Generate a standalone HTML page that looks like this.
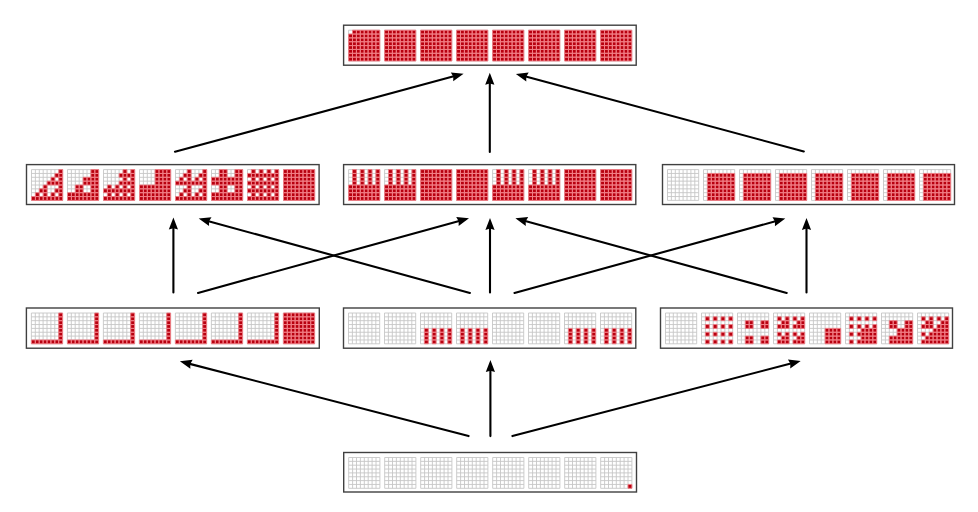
<!DOCTYPE html>
<html><head><meta charset="utf-8"><title>Lattice diagram</title>
<style>html,body{margin:0;padding:0;background:#fff;width:978px;height:512px;overflow:hidden;font-family:"Liberation Sans",sans-serif;}svg{display:block}</style>
</head><body><svg width="978" height="512" viewBox="0 0 978 512"><rect x="343.60" y="25.20" width="292.60" height="40.00" fill="#fff" stroke="#404040" stroke-width="1.4"/><path fill="none" stroke="#c6c6c6" stroke-width="0.9" d="M348.60 30.20V61.00M348.60 30.20H379.80M352.50 30.20V61.00M348.60 34.05H379.80M356.40 30.20V61.00M348.60 37.90H379.80M360.30 30.20V61.00M348.60 41.75H379.80M364.20 30.20V61.00M348.60 45.60H379.80M368.10 30.20V61.00M348.60 49.45H379.80M372.00 30.20V61.00M348.60 53.30H379.80M375.90 30.20V61.00M348.60 57.15H379.80M379.80 30.20V61.00M348.60 61.00H379.80"/><path fill="#b8000f" stroke="#f28088" stroke-width="0.9" d="M352.50 30.20h3.90v3.85h-3.90zM356.40 30.20h3.90v3.85h-3.90zM360.30 30.20h3.90v3.85h-3.90zM364.20 30.20h3.90v3.85h-3.90zM368.10 30.20h3.90v3.85h-3.90zM372.00 30.20h3.90v3.85h-3.90zM375.90 30.20h3.90v3.85h-3.90zM348.60 34.05h3.90v3.85h-3.90zM352.50 34.05h3.90v3.85h-3.90zM356.40 34.05h3.90v3.85h-3.90zM360.30 34.05h3.90v3.85h-3.90zM364.20 34.05h3.90v3.85h-3.90zM368.10 34.05h3.90v3.85h-3.90zM372.00 34.05h3.90v3.85h-3.90zM375.90 34.05h3.90v3.85h-3.90zM348.60 37.90h3.90v3.85h-3.90zM352.50 37.90h3.90v3.85h-3.90zM356.40 37.90h3.90v3.85h-3.90zM360.30 37.90h3.90v3.85h-3.90zM364.20 37.90h3.90v3.85h-3.90zM368.10 37.90h3.90v3.85h-3.90zM372.00 37.90h3.90v3.85h-3.90zM375.90 37.90h3.90v3.85h-3.90zM348.60 41.75h3.90v3.85h-3.90zM352.50 41.75h3.90v3.85h-3.90zM356.40 41.75h3.90v3.85h-3.90zM360.30 41.75h3.90v3.85h-3.90zM364.20 41.75h3.90v3.85h-3.90zM368.10 41.75h3.90v3.85h-3.90zM372.00 41.75h3.90v3.85h-3.90zM375.90 41.75h3.90v3.85h-3.90zM348.60 45.60h3.90v3.85h-3.90zM352.50 45.60h3.90v3.85h-3.90zM356.40 45.60h3.90v3.85h-3.90zM360.30 45.60h3.90v3.85h-3.90zM364.20 45.60h3.90v3.85h-3.90zM368.10 45.60h3.90v3.85h-3.90zM372.00 45.60h3.90v3.85h-3.90zM375.90 45.60h3.90v3.85h-3.90zM348.60 49.45h3.90v3.85h-3.90zM352.50 49.45h3.90v3.85h-3.90zM356.40 49.45h3.90v3.85h-3.90zM360.30 49.45h3.90v3.85h-3.90zM364.20 49.45h3.90v3.85h-3.90zM368.10 49.45h3.90v3.85h-3.90zM372.00 49.45h3.90v3.85h-3.90zM375.90 49.45h3.90v3.85h-3.90zM348.60 53.30h3.90v3.85h-3.90zM352.50 53.30h3.90v3.85h-3.90zM356.40 53.30h3.90v3.85h-3.90zM360.30 53.30h3.90v3.85h-3.90zM364.20 53.30h3.90v3.85h-3.90zM368.10 53.30h3.90v3.85h-3.90zM372.00 53.30h3.90v3.85h-3.90zM375.90 53.30h3.90v3.85h-3.90zM348.60 57.15h3.90v3.85h-3.90zM352.50 57.15h3.90v3.85h-3.90zM356.40 57.15h3.90v3.85h-3.90zM360.30 57.15h3.90v3.85h-3.90zM364.20 57.15h3.90v3.85h-3.90zM368.10 57.15h3.90v3.85h-3.90zM372.00 57.15h3.90v3.85h-3.90zM375.90 57.15h3.90v3.85h-3.90z"/><path fill="none" stroke="#c6c6c6" stroke-width="0.9" d="M384.60 30.20V61.00M384.60 30.20H415.80M388.50 30.20V61.00M384.60 34.05H415.80M392.40 30.20V61.00M384.60 37.90H415.80M396.30 30.20V61.00M384.60 41.75H415.80M400.20 30.20V61.00M384.60 45.60H415.80M404.10 30.20V61.00M384.60 49.45H415.80M408.00 30.20V61.00M384.60 53.30H415.80M411.90 30.20V61.00M384.60 57.15H415.80M415.80 30.20V61.00M384.60 61.00H415.80"/><path fill="#b8000f" stroke="#f28088" stroke-width="0.9" d="M384.60 30.20h3.90v3.85h-3.90zM388.50 30.20h3.90v3.85h-3.90zM392.40 30.20h3.90v3.85h-3.90zM396.30 30.20h3.90v3.85h-3.90zM400.20 30.20h3.90v3.85h-3.90zM404.10 30.20h3.90v3.85h-3.90zM408.00 30.20h3.90v3.85h-3.90zM411.90 30.20h3.90v3.85h-3.90zM384.60 34.05h3.90v3.85h-3.90zM388.50 34.05h3.90v3.85h-3.90zM392.40 34.05h3.90v3.85h-3.90zM396.30 34.05h3.90v3.85h-3.90zM400.20 34.05h3.90v3.85h-3.90zM404.10 34.05h3.90v3.85h-3.90zM408.00 34.05h3.90v3.85h-3.90zM411.90 34.05h3.90v3.85h-3.90zM384.60 37.90h3.90v3.85h-3.90zM388.50 37.90h3.90v3.85h-3.90zM392.40 37.90h3.90v3.85h-3.90zM396.30 37.90h3.90v3.85h-3.90zM400.20 37.90h3.90v3.85h-3.90zM404.10 37.90h3.90v3.85h-3.90zM408.00 37.90h3.90v3.85h-3.90zM411.90 37.90h3.90v3.85h-3.90zM384.60 41.75h3.90v3.85h-3.90zM388.50 41.75h3.90v3.85h-3.90zM392.40 41.75h3.90v3.85h-3.90zM396.30 41.75h3.90v3.85h-3.90zM400.20 41.75h3.90v3.85h-3.90zM404.10 41.75h3.90v3.85h-3.90zM408.00 41.75h3.90v3.85h-3.90zM411.90 41.75h3.90v3.85h-3.90zM384.60 45.60h3.90v3.85h-3.90zM388.50 45.60h3.90v3.85h-3.90zM392.40 45.60h3.90v3.85h-3.90zM396.30 45.60h3.90v3.85h-3.90zM400.20 45.60h3.90v3.85h-3.90zM404.10 45.60h3.90v3.85h-3.90zM408.00 45.60h3.90v3.85h-3.90zM411.90 45.60h3.90v3.85h-3.90zM384.60 49.45h3.90v3.85h-3.90zM388.50 49.45h3.90v3.85h-3.90zM392.40 49.45h3.90v3.85h-3.90zM396.30 49.45h3.90v3.85h-3.90zM400.20 49.45h3.90v3.85h-3.90zM404.10 49.45h3.90v3.85h-3.90zM408.00 49.45h3.90v3.85h-3.90zM411.90 49.45h3.90v3.85h-3.90zM384.60 53.30h3.90v3.85h-3.90zM388.50 53.30h3.90v3.85h-3.90zM392.40 53.30h3.90v3.85h-3.90zM396.30 53.30h3.90v3.85h-3.90zM400.20 53.30h3.90v3.85h-3.90zM404.10 53.30h3.90v3.85h-3.90zM408.00 53.30h3.90v3.85h-3.90zM411.90 53.30h3.90v3.85h-3.90zM384.60 57.15h3.90v3.85h-3.90zM388.50 57.15h3.90v3.85h-3.90zM392.40 57.15h3.90v3.85h-3.90zM396.30 57.15h3.90v3.85h-3.90zM400.20 57.15h3.90v3.85h-3.90zM404.10 57.15h3.90v3.85h-3.90zM408.00 57.15h3.90v3.85h-3.90zM411.90 57.15h3.90v3.85h-3.90z"/><path fill="none" stroke="#c6c6c6" stroke-width="0.9" d="M420.60 30.20V61.00M420.60 30.20H451.80M424.50 30.20V61.00M420.60 34.05H451.80M428.40 30.20V61.00M420.60 37.90H451.80M432.30 30.20V61.00M420.60 41.75H451.80M436.20 30.20V61.00M420.60 45.60H451.80M440.10 30.20V61.00M420.60 49.45H451.80M444.00 30.20V61.00M420.60 53.30H451.80M447.90 30.20V61.00M420.60 57.15H451.80M451.80 30.20V61.00M420.60 61.00H451.80"/><path fill="#b8000f" stroke="#f28088" stroke-width="0.9" d="M420.60 30.20h3.90v3.85h-3.90zM424.50 30.20h3.90v3.85h-3.90zM428.40 30.20h3.90v3.85h-3.90zM432.30 30.20h3.90v3.85h-3.90zM436.20 30.20h3.90v3.85h-3.90zM440.10 30.20h3.90v3.85h-3.90zM444.00 30.20h3.90v3.85h-3.90zM447.90 30.20h3.90v3.85h-3.90zM420.60 34.05h3.90v3.85h-3.90zM424.50 34.05h3.90v3.85h-3.90zM428.40 34.05h3.90v3.85h-3.90zM432.30 34.05h3.90v3.85h-3.90zM436.20 34.05h3.90v3.85h-3.90zM440.10 34.05h3.90v3.85h-3.90zM444.00 34.05h3.90v3.85h-3.90zM447.90 34.05h3.90v3.85h-3.90zM420.60 37.90h3.90v3.85h-3.90zM424.50 37.90h3.90v3.85h-3.90zM428.40 37.90h3.90v3.85h-3.90zM432.30 37.90h3.90v3.85h-3.90zM436.20 37.90h3.90v3.85h-3.90zM440.10 37.90h3.90v3.85h-3.90zM444.00 37.90h3.90v3.85h-3.90zM447.90 37.90h3.90v3.85h-3.90zM420.60 41.75h3.90v3.85h-3.90zM424.50 41.75h3.90v3.85h-3.90zM428.40 41.75h3.90v3.85h-3.90zM432.30 41.75h3.90v3.85h-3.90zM436.20 41.75h3.90v3.85h-3.90zM440.10 41.75h3.90v3.85h-3.90zM444.00 41.75h3.90v3.85h-3.90zM447.90 41.75h3.90v3.85h-3.90zM420.60 45.60h3.90v3.85h-3.90zM424.50 45.60h3.90v3.85h-3.90zM428.40 45.60h3.90v3.85h-3.90zM432.30 45.60h3.90v3.85h-3.90zM436.20 45.60h3.90v3.85h-3.90zM440.10 45.60h3.90v3.85h-3.90zM444.00 45.60h3.90v3.85h-3.90zM447.90 45.60h3.90v3.85h-3.90zM420.60 49.45h3.90v3.85h-3.90zM424.50 49.45h3.90v3.85h-3.90zM428.40 49.45h3.90v3.85h-3.90zM432.30 49.45h3.90v3.85h-3.90zM436.20 49.45h3.90v3.85h-3.90zM440.10 49.45h3.90v3.85h-3.90zM444.00 49.45h3.90v3.85h-3.90zM447.90 49.45h3.90v3.85h-3.90zM420.60 53.30h3.90v3.85h-3.90zM424.50 53.30h3.90v3.85h-3.90zM428.40 53.30h3.90v3.85h-3.90zM432.30 53.30h3.90v3.85h-3.90zM436.20 53.30h3.90v3.85h-3.90zM440.10 53.30h3.90v3.85h-3.90zM444.00 53.30h3.90v3.85h-3.90zM447.90 53.30h3.90v3.85h-3.90zM420.60 57.15h3.90v3.85h-3.90zM424.50 57.15h3.90v3.85h-3.90zM428.40 57.15h3.90v3.85h-3.90zM432.30 57.15h3.90v3.85h-3.90zM436.20 57.15h3.90v3.85h-3.90zM440.10 57.15h3.90v3.85h-3.90zM444.00 57.15h3.90v3.85h-3.90zM447.90 57.15h3.90v3.85h-3.90z"/><path fill="none" stroke="#c6c6c6" stroke-width="0.9" d="M456.60 30.20V61.00M456.60 30.20H487.80M460.50 30.20V61.00M456.60 34.05H487.80M464.40 30.20V61.00M456.60 37.90H487.80M468.30 30.20V61.00M456.60 41.75H487.80M472.20 30.20V61.00M456.60 45.60H487.80M476.10 30.20V61.00M456.60 49.45H487.80M480.00 30.20V61.00M456.60 53.30H487.80M483.90 30.20V61.00M456.60 57.15H487.80M487.80 30.20V61.00M456.60 61.00H487.80"/><path fill="#b8000f" stroke="#f28088" stroke-width="0.9" d="M456.60 30.20h3.90v3.85h-3.90zM460.50 30.20h3.90v3.85h-3.90zM464.40 30.20h3.90v3.85h-3.90zM468.30 30.20h3.90v3.85h-3.90zM472.20 30.20h3.90v3.85h-3.90zM476.10 30.20h3.90v3.85h-3.90zM480.00 30.20h3.90v3.85h-3.90zM483.90 30.20h3.90v3.85h-3.90zM456.60 34.05h3.90v3.85h-3.90zM460.50 34.05h3.90v3.85h-3.90zM464.40 34.05h3.90v3.85h-3.90zM468.30 34.05h3.90v3.85h-3.90zM472.20 34.05h3.90v3.85h-3.90zM476.10 34.05h3.90v3.85h-3.90zM480.00 34.05h3.90v3.85h-3.90zM483.90 34.05h3.90v3.85h-3.90zM456.60 37.90h3.90v3.85h-3.90zM460.50 37.90h3.90v3.85h-3.90zM464.40 37.90h3.90v3.85h-3.90zM468.30 37.90h3.90v3.85h-3.90zM472.20 37.90h3.90v3.85h-3.90zM476.10 37.90h3.90v3.85h-3.90zM480.00 37.90h3.90v3.85h-3.90zM483.90 37.90h3.90v3.85h-3.90zM456.60 41.75h3.90v3.85h-3.90zM460.50 41.75h3.90v3.85h-3.90zM464.40 41.75h3.90v3.85h-3.90zM468.30 41.75h3.90v3.85h-3.90zM472.20 41.75h3.90v3.85h-3.90zM476.10 41.75h3.90v3.85h-3.90zM480.00 41.75h3.90v3.85h-3.90zM483.90 41.75h3.90v3.85h-3.90zM456.60 45.60h3.90v3.85h-3.90zM460.50 45.60h3.90v3.85h-3.90zM464.40 45.60h3.90v3.85h-3.90zM468.30 45.60h3.90v3.85h-3.90zM472.20 45.60h3.90v3.85h-3.90zM476.10 45.60h3.90v3.85h-3.90zM480.00 45.60h3.90v3.85h-3.90zM483.90 45.60h3.90v3.85h-3.90zM456.60 49.45h3.90v3.85h-3.90zM460.50 49.45h3.90v3.85h-3.90zM464.40 49.45h3.90v3.85h-3.90zM468.30 49.45h3.90v3.85h-3.90zM472.20 49.45h3.90v3.85h-3.90zM476.10 49.45h3.90v3.85h-3.90zM480.00 49.45h3.90v3.85h-3.90zM483.90 49.45h3.90v3.85h-3.90zM456.60 53.30h3.90v3.85h-3.90zM460.50 53.30h3.90v3.85h-3.90zM464.40 53.30h3.90v3.85h-3.90zM468.30 53.30h3.90v3.85h-3.90zM472.20 53.30h3.90v3.85h-3.90zM476.10 53.30h3.90v3.85h-3.90zM480.00 53.30h3.90v3.85h-3.90zM483.90 53.30h3.90v3.85h-3.90zM456.60 57.15h3.90v3.85h-3.90zM460.50 57.15h3.90v3.85h-3.90zM464.40 57.15h3.90v3.85h-3.90zM468.30 57.15h3.90v3.85h-3.90zM472.20 57.15h3.90v3.85h-3.90zM476.10 57.15h3.90v3.85h-3.90zM480.00 57.15h3.90v3.85h-3.90zM483.90 57.15h3.90v3.85h-3.90z"/><path fill="none" stroke="#c6c6c6" stroke-width="0.9" d="M492.60 30.20V61.00M492.60 30.20H523.80M496.50 30.20V61.00M492.60 34.05H523.80M500.40 30.20V61.00M492.60 37.90H523.80M504.30 30.20V61.00M492.60 41.75H523.80M508.20 30.20V61.00M492.60 45.60H523.80M512.10 30.20V61.00M492.60 49.45H523.80M516.00 30.20V61.00M492.60 53.30H523.80M519.90 30.20V61.00M492.60 57.15H523.80M523.80 30.20V61.00M492.60 61.00H523.80"/><path fill="#b8000f" stroke="#f28088" stroke-width="0.9" d="M492.60 30.20h3.90v3.85h-3.90zM496.50 30.20h3.90v3.85h-3.90zM500.40 30.20h3.90v3.85h-3.90zM504.30 30.20h3.90v3.85h-3.90zM508.20 30.20h3.90v3.85h-3.90zM512.10 30.20h3.90v3.85h-3.90zM516.00 30.20h3.90v3.85h-3.90zM519.90 30.20h3.90v3.85h-3.90zM492.60 34.05h3.90v3.85h-3.90zM496.50 34.05h3.90v3.85h-3.90zM500.40 34.05h3.90v3.85h-3.90zM504.30 34.05h3.90v3.85h-3.90zM508.20 34.05h3.90v3.85h-3.90zM512.10 34.05h3.90v3.85h-3.90zM516.00 34.05h3.90v3.85h-3.90zM519.90 34.05h3.90v3.85h-3.90zM492.60 37.90h3.90v3.85h-3.90zM496.50 37.90h3.90v3.85h-3.90zM500.40 37.90h3.90v3.85h-3.90zM504.30 37.90h3.90v3.85h-3.90zM508.20 37.90h3.90v3.85h-3.90zM512.10 37.90h3.90v3.85h-3.90zM516.00 37.90h3.90v3.85h-3.90zM519.90 37.90h3.90v3.85h-3.90zM492.60 41.75h3.90v3.85h-3.90zM496.50 41.75h3.90v3.85h-3.90zM500.40 41.75h3.90v3.85h-3.90zM504.30 41.75h3.90v3.85h-3.90zM508.20 41.75h3.90v3.85h-3.90zM512.10 41.75h3.90v3.85h-3.90zM516.00 41.75h3.90v3.85h-3.90zM519.90 41.75h3.90v3.85h-3.90zM492.60 45.60h3.90v3.85h-3.90zM496.50 45.60h3.90v3.85h-3.90zM500.40 45.60h3.90v3.85h-3.90zM504.30 45.60h3.90v3.85h-3.90zM508.20 45.60h3.90v3.85h-3.90zM512.10 45.60h3.90v3.85h-3.90zM516.00 45.60h3.90v3.85h-3.90zM519.90 45.60h3.90v3.85h-3.90zM492.60 49.45h3.90v3.85h-3.90zM496.50 49.45h3.90v3.85h-3.90zM500.40 49.45h3.90v3.85h-3.90zM504.30 49.45h3.90v3.85h-3.90zM508.20 49.45h3.90v3.85h-3.90zM512.10 49.45h3.90v3.85h-3.90zM516.00 49.45h3.90v3.85h-3.90zM519.90 49.45h3.90v3.85h-3.90zM492.60 53.30h3.90v3.85h-3.90zM496.50 53.30h3.90v3.85h-3.90zM500.40 53.30h3.90v3.85h-3.90zM504.30 53.30h3.90v3.85h-3.90zM508.20 53.30h3.90v3.85h-3.90zM512.10 53.30h3.90v3.85h-3.90zM516.00 53.30h3.90v3.85h-3.90zM519.90 53.30h3.90v3.85h-3.90zM492.60 57.15h3.90v3.85h-3.90zM496.50 57.15h3.90v3.85h-3.90zM500.40 57.15h3.90v3.85h-3.90zM504.30 57.15h3.90v3.85h-3.90zM508.20 57.15h3.90v3.85h-3.90zM512.10 57.15h3.90v3.85h-3.90zM516.00 57.15h3.90v3.85h-3.90zM519.90 57.15h3.90v3.85h-3.90z"/><path fill="none" stroke="#c6c6c6" stroke-width="0.9" d="M528.60 30.20V61.00M528.60 30.20H559.80M532.50 30.20V61.00M528.60 34.05H559.80M536.40 30.20V61.00M528.60 37.90H559.80M540.30 30.20V61.00M528.60 41.75H559.80M544.20 30.20V61.00M528.60 45.60H559.80M548.10 30.20V61.00M528.60 49.45H559.80M552.00 30.20V61.00M528.60 53.30H559.80M555.90 30.20V61.00M528.60 57.15H559.80M559.80 30.20V61.00M528.60 61.00H559.80"/><path fill="#b8000f" stroke="#f28088" stroke-width="0.9" d="M528.60 30.20h3.90v3.85h-3.90zM532.50 30.20h3.90v3.85h-3.90zM536.40 30.20h3.90v3.85h-3.90zM540.30 30.20h3.90v3.85h-3.90zM544.20 30.20h3.90v3.85h-3.90zM548.10 30.20h3.90v3.85h-3.90zM552.00 30.20h3.90v3.85h-3.90zM555.90 30.20h3.90v3.85h-3.90zM528.60 34.05h3.90v3.85h-3.90zM532.50 34.05h3.90v3.85h-3.90zM536.40 34.05h3.90v3.85h-3.90zM540.30 34.05h3.90v3.85h-3.90zM544.20 34.05h3.90v3.85h-3.90zM548.10 34.05h3.90v3.85h-3.90zM552.00 34.05h3.90v3.85h-3.90zM555.90 34.05h3.90v3.85h-3.90zM528.60 37.90h3.90v3.85h-3.90zM532.50 37.90h3.90v3.85h-3.90zM536.40 37.90h3.90v3.85h-3.90zM540.30 37.90h3.90v3.85h-3.90zM544.20 37.90h3.90v3.85h-3.90zM548.10 37.90h3.90v3.85h-3.90zM552.00 37.90h3.90v3.85h-3.90zM555.90 37.90h3.90v3.85h-3.90zM528.60 41.75h3.90v3.85h-3.90zM532.50 41.75h3.90v3.85h-3.90zM536.40 41.75h3.90v3.85h-3.90zM540.30 41.75h3.90v3.85h-3.90zM544.20 41.75h3.90v3.85h-3.90zM548.10 41.75h3.90v3.85h-3.90zM552.00 41.75h3.90v3.85h-3.90zM555.90 41.75h3.90v3.85h-3.90zM528.60 45.60h3.90v3.85h-3.90zM532.50 45.60h3.90v3.85h-3.90zM536.40 45.60h3.90v3.85h-3.90zM540.30 45.60h3.90v3.85h-3.90zM544.20 45.60h3.90v3.85h-3.90zM548.10 45.60h3.90v3.85h-3.90zM552.00 45.60h3.90v3.85h-3.90zM555.90 45.60h3.90v3.85h-3.90zM528.60 49.45h3.90v3.85h-3.90zM532.50 49.45h3.90v3.85h-3.90zM536.40 49.45h3.90v3.85h-3.90zM540.30 49.45h3.90v3.85h-3.90zM544.20 49.45h3.90v3.85h-3.90zM548.10 49.45h3.90v3.85h-3.90zM552.00 49.45h3.90v3.85h-3.90zM555.90 49.45h3.90v3.85h-3.90zM528.60 53.30h3.90v3.85h-3.90zM532.50 53.30h3.90v3.85h-3.90zM536.40 53.30h3.90v3.85h-3.90zM540.30 53.30h3.90v3.85h-3.90zM544.20 53.30h3.90v3.85h-3.90zM548.10 53.30h3.90v3.85h-3.90zM552.00 53.30h3.90v3.85h-3.90zM555.90 53.30h3.90v3.85h-3.90zM528.60 57.15h3.90v3.85h-3.90zM532.50 57.15h3.90v3.85h-3.90zM536.40 57.15h3.90v3.85h-3.90zM540.30 57.15h3.90v3.85h-3.90zM544.20 57.15h3.90v3.85h-3.90zM548.10 57.15h3.90v3.85h-3.90zM552.00 57.15h3.90v3.85h-3.90zM555.90 57.15h3.90v3.85h-3.90z"/><path fill="none" stroke="#c6c6c6" stroke-width="0.9" d="M564.60 30.20V61.00M564.60 30.20H595.80M568.50 30.20V61.00M564.60 34.05H595.80M572.40 30.20V61.00M564.60 37.90H595.80M576.30 30.20V61.00M564.60 41.75H595.80M580.20 30.20V61.00M564.60 45.60H595.80M584.10 30.20V61.00M564.60 49.45H595.80M588.00 30.20V61.00M564.60 53.30H595.80M591.90 30.20V61.00M564.60 57.15H595.80M595.80 30.20V61.00M564.60 61.00H595.80"/><path fill="#b8000f" stroke="#f28088" stroke-width="0.9" d="M564.60 30.20h3.90v3.85h-3.90zM568.50 30.20h3.90v3.85h-3.90zM572.40 30.20h3.90v3.85h-3.90zM576.30 30.20h3.90v3.85h-3.90zM580.20 30.20h3.90v3.85h-3.90zM584.10 30.20h3.90v3.85h-3.90zM588.00 30.20h3.90v3.85h-3.90zM591.90 30.20h3.90v3.85h-3.90zM564.60 34.05h3.90v3.85h-3.90zM568.50 34.05h3.90v3.85h-3.90zM572.40 34.05h3.90v3.85h-3.90zM576.30 34.05h3.90v3.85h-3.90zM580.20 34.05h3.90v3.85h-3.90zM584.10 34.05h3.90v3.85h-3.90zM588.00 34.05h3.90v3.85h-3.90zM591.90 34.05h3.90v3.85h-3.90zM564.60 37.90h3.90v3.85h-3.90zM568.50 37.90h3.90v3.85h-3.90zM572.40 37.90h3.90v3.85h-3.90zM576.30 37.90h3.90v3.85h-3.90zM580.20 37.90h3.90v3.85h-3.90zM584.10 37.90h3.90v3.85h-3.90zM588.00 37.90h3.90v3.85h-3.90zM591.90 37.90h3.90v3.85h-3.90zM564.60 41.75h3.90v3.85h-3.90zM568.50 41.75h3.90v3.85h-3.90zM572.40 41.75h3.90v3.85h-3.90zM576.30 41.75h3.90v3.85h-3.90zM580.20 41.75h3.90v3.85h-3.90zM584.10 41.75h3.90v3.85h-3.90zM588.00 41.75h3.90v3.85h-3.90zM591.90 41.75h3.90v3.85h-3.90zM564.60 45.60h3.90v3.85h-3.90zM568.50 45.60h3.90v3.85h-3.90zM572.40 45.60h3.90v3.85h-3.90zM576.30 45.60h3.90v3.85h-3.90zM580.20 45.60h3.90v3.85h-3.90zM584.10 45.60h3.90v3.85h-3.90zM588.00 45.60h3.90v3.85h-3.90zM591.90 45.60h3.90v3.85h-3.90zM564.60 49.45h3.90v3.85h-3.90zM568.50 49.45h3.90v3.85h-3.90zM572.40 49.45h3.90v3.85h-3.90zM576.30 49.45h3.90v3.85h-3.90zM580.20 49.45h3.90v3.85h-3.90zM584.10 49.45h3.90v3.85h-3.90zM588.00 49.45h3.90v3.85h-3.90zM591.90 49.45h3.90v3.85h-3.90zM564.60 53.30h3.90v3.85h-3.90zM568.50 53.30h3.90v3.85h-3.90zM572.40 53.30h3.90v3.85h-3.90zM576.30 53.30h3.90v3.85h-3.90zM580.20 53.30h3.90v3.85h-3.90zM584.10 53.30h3.90v3.85h-3.90zM588.00 53.30h3.90v3.85h-3.90zM591.90 53.30h3.90v3.85h-3.90zM564.60 57.15h3.90v3.85h-3.90zM568.50 57.15h3.90v3.85h-3.90zM572.40 57.15h3.90v3.85h-3.90zM576.30 57.15h3.90v3.85h-3.90zM580.20 57.15h3.90v3.85h-3.90zM584.10 57.15h3.90v3.85h-3.90zM588.00 57.15h3.90v3.85h-3.90zM591.90 57.15h3.90v3.85h-3.90z"/><path fill="none" stroke="#c6c6c6" stroke-width="0.9" d="M600.60 30.20V61.00M600.60 30.20H631.80M604.50 30.20V61.00M600.60 34.05H631.80M608.40 30.20V61.00M600.60 37.90H631.80M612.30 30.20V61.00M600.60 41.75H631.80M616.20 30.20V61.00M600.60 45.60H631.80M620.10 30.20V61.00M600.60 49.45H631.80M624.00 30.20V61.00M600.60 53.30H631.80M627.90 30.20V61.00M600.60 57.15H631.80M631.80 30.20V61.00M600.60 61.00H631.80"/><path fill="#b8000f" stroke="#f28088" stroke-width="0.9" d="M600.60 30.20h3.90v3.85h-3.90zM604.50 30.20h3.90v3.85h-3.90zM608.40 30.20h3.90v3.85h-3.90zM612.30 30.20h3.90v3.85h-3.90zM616.20 30.20h3.90v3.85h-3.90zM620.10 30.20h3.90v3.85h-3.90zM624.00 30.20h3.90v3.85h-3.90zM627.90 30.20h3.90v3.85h-3.90zM600.60 34.05h3.90v3.85h-3.90zM604.50 34.05h3.90v3.85h-3.90zM608.40 34.05h3.90v3.85h-3.90zM612.30 34.05h3.90v3.85h-3.90zM616.20 34.05h3.90v3.85h-3.90zM620.10 34.05h3.90v3.85h-3.90zM624.00 34.05h3.90v3.85h-3.90zM627.90 34.05h3.90v3.85h-3.90zM600.60 37.90h3.90v3.85h-3.90zM604.50 37.90h3.90v3.85h-3.90zM608.40 37.90h3.90v3.85h-3.90zM612.30 37.90h3.90v3.85h-3.90zM616.20 37.90h3.90v3.85h-3.90zM620.10 37.90h3.90v3.85h-3.90zM624.00 37.90h3.90v3.85h-3.90zM627.90 37.90h3.90v3.85h-3.90zM600.60 41.75h3.90v3.85h-3.90zM604.50 41.75h3.90v3.85h-3.90zM608.40 41.75h3.90v3.85h-3.90zM612.30 41.75h3.90v3.85h-3.90zM616.20 41.75h3.90v3.85h-3.90zM620.10 41.75h3.90v3.85h-3.90zM624.00 41.75h3.90v3.85h-3.90zM627.90 41.75h3.90v3.85h-3.90zM600.60 45.60h3.90v3.85h-3.90zM604.50 45.60h3.90v3.85h-3.90zM608.40 45.60h3.90v3.85h-3.90zM612.30 45.60h3.90v3.85h-3.90zM616.20 45.60h3.90v3.85h-3.90zM620.10 45.60h3.90v3.85h-3.90zM624.00 45.60h3.90v3.85h-3.90zM627.90 45.60h3.90v3.85h-3.90zM600.60 49.45h3.90v3.85h-3.90zM604.50 49.45h3.90v3.85h-3.90zM608.40 49.45h3.90v3.85h-3.90zM612.30 49.45h3.90v3.85h-3.90zM616.20 49.45h3.90v3.85h-3.90zM620.10 49.45h3.90v3.85h-3.90zM624.00 49.45h3.90v3.85h-3.90zM627.90 49.45h3.90v3.85h-3.90zM600.60 53.30h3.90v3.85h-3.90zM604.50 53.30h3.90v3.85h-3.90zM608.40 53.30h3.90v3.85h-3.90zM612.30 53.30h3.90v3.85h-3.90zM616.20 53.30h3.90v3.85h-3.90zM620.10 53.30h3.90v3.85h-3.90zM624.00 53.30h3.90v3.85h-3.90zM627.90 53.30h3.90v3.85h-3.90zM600.60 57.15h3.90v3.85h-3.90zM604.50 57.15h3.90v3.85h-3.90zM608.40 57.15h3.90v3.85h-3.90zM612.30 57.15h3.90v3.85h-3.90zM616.20 57.15h3.90v3.85h-3.90zM620.10 57.15h3.90v3.85h-3.90zM624.00 57.15h3.90v3.85h-3.90zM627.90 57.15h3.90v3.85h-3.90z"/><rect x="26.50" y="164.60" width="292.60" height="39.90" fill="#fff" stroke="#404040" stroke-width="1.4"/><path fill="none" stroke="#c6c6c6" stroke-width="0.9" d="M31.50 169.60V200.40M31.50 169.60H62.70M35.40 169.60V200.40M31.50 173.45H62.70M39.30 169.60V200.40M31.50 177.30H62.70M43.20 169.60V200.40M31.50 181.15H62.70M47.10 169.60V200.40M31.50 185.00H62.70M51.00 169.60V200.40M31.50 188.85H62.70M54.90 169.60V200.40M31.50 192.70H62.70M58.80 169.60V200.40M31.50 196.55H62.70M62.70 169.60V200.40M31.50 200.40H62.70"/><path fill="#b8000f" stroke="#f28088" stroke-width="0.9" d="M58.80 169.60h3.90v3.85h-3.90zM54.90 173.45h3.90v3.85h-3.90zM58.80 173.45h3.90v3.85h-3.90zM51.00 177.30h3.90v3.85h-3.90zM58.80 177.30h3.90v3.85h-3.90zM47.10 181.15h3.90v3.85h-3.90zM51.00 181.15h3.90v3.85h-3.90zM54.90 181.15h3.90v3.85h-3.90zM58.80 181.15h3.90v3.85h-3.90zM43.20 185.00h3.90v3.85h-3.90zM58.80 185.00h3.90v3.85h-3.90zM39.30 188.85h3.90v3.85h-3.90zM43.20 188.85h3.90v3.85h-3.90zM54.90 188.85h3.90v3.85h-3.90zM58.80 188.85h3.90v3.85h-3.90zM35.40 192.70h3.90v3.85h-3.90zM43.20 192.70h3.90v3.85h-3.90zM51.00 192.70h3.90v3.85h-3.90zM58.80 192.70h3.90v3.85h-3.90zM31.50 196.55h3.90v3.85h-3.90zM35.40 196.55h3.90v3.85h-3.90zM39.30 196.55h3.90v3.85h-3.90zM43.20 196.55h3.90v3.85h-3.90zM47.10 196.55h3.90v3.85h-3.90zM51.00 196.55h3.90v3.85h-3.90zM54.90 196.55h3.90v3.85h-3.90zM58.80 196.55h3.90v3.85h-3.90z"/><path fill="none" stroke="#c6c6c6" stroke-width="0.9" d="M67.50 169.60V200.40M67.50 169.60H98.70M71.40 169.60V200.40M67.50 173.45H98.70M75.30 169.60V200.40M67.50 177.30H98.70M79.20 169.60V200.40M67.50 181.15H98.70M83.10 169.60V200.40M67.50 185.00H98.70M87.00 169.60V200.40M67.50 188.85H98.70M90.90 169.60V200.40M67.50 192.70H98.70M94.80 169.60V200.40M67.50 196.55H98.70M98.70 169.60V200.40M67.50 200.40H98.70"/><path fill="#b8000f" stroke="#f28088" stroke-width="0.9" d="M90.90 169.60h3.90v3.85h-3.90zM94.80 169.60h3.90v3.85h-3.90zM90.90 173.45h3.90v3.85h-3.90zM94.80 173.45h3.90v3.85h-3.90zM83.10 177.30h3.90v3.85h-3.90zM87.00 177.30h3.90v3.85h-3.90zM90.90 177.30h3.90v3.85h-3.90zM94.80 177.30h3.90v3.85h-3.90zM83.10 181.15h3.90v3.85h-3.90zM87.00 181.15h3.90v3.85h-3.90zM90.90 181.15h3.90v3.85h-3.90zM94.80 181.15h3.90v3.85h-3.90zM75.30 185.00h3.90v3.85h-3.90zM79.20 185.00h3.90v3.85h-3.90zM90.90 185.00h3.90v3.85h-3.90zM94.80 185.00h3.90v3.85h-3.90zM75.30 188.85h3.90v3.85h-3.90zM79.20 188.85h3.90v3.85h-3.90zM90.90 188.85h3.90v3.85h-3.90zM94.80 188.85h3.90v3.85h-3.90zM67.50 192.70h3.90v3.85h-3.90zM71.40 192.70h3.90v3.85h-3.90zM75.30 192.70h3.90v3.85h-3.90zM79.20 192.70h3.90v3.85h-3.90zM83.10 192.70h3.90v3.85h-3.90zM87.00 192.70h3.90v3.85h-3.90zM90.90 192.70h3.90v3.85h-3.90zM94.80 192.70h3.90v3.85h-3.90zM67.50 196.55h3.90v3.85h-3.90zM71.40 196.55h3.90v3.85h-3.90zM75.30 196.55h3.90v3.85h-3.90zM79.20 196.55h3.90v3.85h-3.90zM83.10 196.55h3.90v3.85h-3.90zM87.00 196.55h3.90v3.85h-3.90zM90.90 196.55h3.90v3.85h-3.90zM94.80 196.55h3.90v3.85h-3.90z"/><path fill="none" stroke="#c6c6c6" stroke-width="0.9" d="M103.50 169.60V200.40M103.50 169.60H134.70M107.40 169.60V200.40M103.50 173.45H134.70M111.30 169.60V200.40M103.50 177.30H134.70M115.20 169.60V200.40M103.50 181.15H134.70M119.10 169.60V200.40M103.50 185.00H134.70M123.00 169.60V200.40M103.50 188.85H134.70M126.90 169.60V200.40M103.50 192.70H134.70M130.80 169.60V200.40M103.50 196.55H134.70M134.70 169.60V200.40M103.50 200.40H134.70"/><path fill="#b8000f" stroke="#f28088" stroke-width="0.9" d="M123.00 169.60h3.90v3.85h-3.90zM130.80 169.60h3.90v3.85h-3.90zM119.10 173.45h3.90v3.85h-3.90zM123.00 173.45h3.90v3.85h-3.90zM126.90 173.45h3.90v3.85h-3.90zM130.80 173.45h3.90v3.85h-3.90zM123.00 177.30h3.90v3.85h-3.90zM130.80 177.30h3.90v3.85h-3.90zM119.10 181.15h3.90v3.85h-3.90zM123.00 181.15h3.90v3.85h-3.90zM126.90 181.15h3.90v3.85h-3.90zM130.80 181.15h3.90v3.85h-3.90zM107.40 185.00h3.90v3.85h-3.90zM115.20 185.00h3.90v3.85h-3.90zM123.00 185.00h3.90v3.85h-3.90zM130.80 185.00h3.90v3.85h-3.90zM103.50 188.85h3.90v3.85h-3.90zM107.40 188.85h3.90v3.85h-3.90zM111.30 188.85h3.90v3.85h-3.90zM115.20 188.85h3.90v3.85h-3.90zM119.10 188.85h3.90v3.85h-3.90zM123.00 188.85h3.90v3.85h-3.90zM126.90 188.85h3.90v3.85h-3.90zM130.80 188.85h3.90v3.85h-3.90zM107.40 192.70h3.90v3.85h-3.90zM115.20 192.70h3.90v3.85h-3.90zM123.00 192.70h3.90v3.85h-3.90zM130.80 192.70h3.90v3.85h-3.90zM103.50 196.55h3.90v3.85h-3.90zM107.40 196.55h3.90v3.85h-3.90zM111.30 196.55h3.90v3.85h-3.90zM115.20 196.55h3.90v3.85h-3.90zM119.10 196.55h3.90v3.85h-3.90zM123.00 196.55h3.90v3.85h-3.90zM126.90 196.55h3.90v3.85h-3.90zM130.80 196.55h3.90v3.85h-3.90z"/><path fill="none" stroke="#c6c6c6" stroke-width="0.9" d="M139.50 169.60V200.40M139.50 169.60H170.70M143.40 169.60V200.40M139.50 173.45H170.70M147.30 169.60V200.40M139.50 177.30H170.70M151.20 169.60V200.40M139.50 181.15H170.70M155.10 169.60V200.40M139.50 185.00H170.70M159.00 169.60V200.40M139.50 188.85H170.70M162.90 169.60V200.40M139.50 192.70H170.70M166.80 169.60V200.40M139.50 196.55H170.70M170.70 169.60V200.40M139.50 200.40H170.70"/><path fill="#b8000f" stroke="#f28088" stroke-width="0.9" d="M155.10 169.60h3.90v3.85h-3.90zM159.00 169.60h3.90v3.85h-3.90zM162.90 169.60h3.90v3.85h-3.90zM166.80 169.60h3.90v3.85h-3.90zM155.10 173.45h3.90v3.85h-3.90zM159.00 173.45h3.90v3.85h-3.90zM162.90 173.45h3.90v3.85h-3.90zM166.80 173.45h3.90v3.85h-3.90zM155.10 177.30h3.90v3.85h-3.90zM159.00 177.30h3.90v3.85h-3.90zM162.90 177.30h3.90v3.85h-3.90zM166.80 177.30h3.90v3.85h-3.90zM155.10 181.15h3.90v3.85h-3.90zM159.00 181.15h3.90v3.85h-3.90zM162.90 181.15h3.90v3.85h-3.90zM166.80 181.15h3.90v3.85h-3.90zM139.50 185.00h3.90v3.85h-3.90zM143.40 185.00h3.90v3.85h-3.90zM147.30 185.00h3.90v3.85h-3.90zM151.20 185.00h3.90v3.85h-3.90zM155.10 185.00h3.90v3.85h-3.90zM159.00 185.00h3.90v3.85h-3.90zM162.90 185.00h3.90v3.85h-3.90zM166.80 185.00h3.90v3.85h-3.90zM139.50 188.85h3.90v3.85h-3.90zM143.40 188.85h3.90v3.85h-3.90zM147.30 188.85h3.90v3.85h-3.90zM151.20 188.85h3.90v3.85h-3.90zM155.10 188.85h3.90v3.85h-3.90zM159.00 188.85h3.90v3.85h-3.90zM162.90 188.85h3.90v3.85h-3.90zM166.80 188.85h3.90v3.85h-3.90zM139.50 192.70h3.90v3.85h-3.90zM143.40 192.70h3.90v3.85h-3.90zM147.30 192.70h3.90v3.85h-3.90zM151.20 192.70h3.90v3.85h-3.90zM155.10 192.70h3.90v3.85h-3.90zM159.00 192.70h3.90v3.85h-3.90zM162.90 192.70h3.90v3.85h-3.90zM166.80 192.70h3.90v3.85h-3.90zM139.50 196.55h3.90v3.85h-3.90zM143.40 196.55h3.90v3.85h-3.90zM147.30 196.55h3.90v3.85h-3.90zM151.20 196.55h3.90v3.85h-3.90zM155.10 196.55h3.90v3.85h-3.90zM159.00 196.55h3.90v3.85h-3.90zM162.90 196.55h3.90v3.85h-3.90zM166.80 196.55h3.90v3.85h-3.90z"/><path fill="none" stroke="#c6c6c6" stroke-width="0.9" d="M175.50 169.60V200.40M175.50 169.60H206.70M179.40 169.60V200.40M175.50 173.45H206.70M183.30 169.60V200.40M175.50 177.30H206.70M187.20 169.60V200.40M175.50 181.15H206.70M191.10 169.60V200.40M175.50 185.00H206.70M195.00 169.60V200.40M175.50 188.85H206.70M198.90 169.60V200.40M175.50 192.70H206.70M202.80 169.60V200.40M175.50 196.55H206.70M206.70 169.60V200.40M175.50 200.40H206.70"/><path fill="#b8000f" stroke="#f28088" stroke-width="0.9" d="M187.20 169.60h3.90v3.85h-3.90zM202.80 169.60h3.90v3.85h-3.90zM183.30 173.45h3.90v3.85h-3.90zM187.20 173.45h3.90v3.85h-3.90zM198.90 173.45h3.90v3.85h-3.90zM202.80 173.45h3.90v3.85h-3.90zM179.40 177.30h3.90v3.85h-3.90zM187.20 177.30h3.90v3.85h-3.90zM195.00 177.30h3.90v3.85h-3.90zM202.80 177.30h3.90v3.85h-3.90zM175.50 181.15h3.90v3.85h-3.90zM179.40 181.15h3.90v3.85h-3.90zM183.30 181.15h3.90v3.85h-3.90zM187.20 181.15h3.90v3.85h-3.90zM191.10 181.15h3.90v3.85h-3.90zM195.00 181.15h3.90v3.85h-3.90zM198.90 181.15h3.90v3.85h-3.90zM202.80 181.15h3.90v3.85h-3.90zM187.20 185.00h3.90v3.85h-3.90zM202.80 185.00h3.90v3.85h-3.90zM183.30 188.85h3.90v3.85h-3.90zM187.20 188.85h3.90v3.85h-3.90zM198.90 188.85h3.90v3.85h-3.90zM202.80 188.85h3.90v3.85h-3.90zM179.40 192.70h3.90v3.85h-3.90zM187.20 192.70h3.90v3.85h-3.90zM195.00 192.70h3.90v3.85h-3.90zM202.80 192.70h3.90v3.85h-3.90zM175.50 196.55h3.90v3.85h-3.90zM179.40 196.55h3.90v3.85h-3.90zM183.30 196.55h3.90v3.85h-3.90zM187.20 196.55h3.90v3.85h-3.90zM191.10 196.55h3.90v3.85h-3.90zM195.00 196.55h3.90v3.85h-3.90zM198.90 196.55h3.90v3.85h-3.90zM202.80 196.55h3.90v3.85h-3.90z"/><path fill="none" stroke="#c6c6c6" stroke-width="0.9" d="M211.50 169.60V200.40M211.50 169.60H242.70M215.40 169.60V200.40M211.50 173.45H242.70M219.30 169.60V200.40M211.50 177.30H242.70M223.20 169.60V200.40M211.50 181.15H242.70M227.10 169.60V200.40M211.50 185.00H242.70M231.00 169.60V200.40M211.50 188.85H242.70M234.90 169.60V200.40M211.50 192.70H242.70M238.80 169.60V200.40M211.50 196.55H242.70M242.70 169.60V200.40M211.50 200.40H242.70"/><path fill="#b8000f" stroke="#f28088" stroke-width="0.9" d="M219.30 169.60h3.90v3.85h-3.90zM223.20 169.60h3.90v3.85h-3.90zM234.90 169.60h3.90v3.85h-3.90zM238.80 169.60h3.90v3.85h-3.90zM219.30 173.45h3.90v3.85h-3.90zM223.20 173.45h3.90v3.85h-3.90zM234.90 173.45h3.90v3.85h-3.90zM238.80 173.45h3.90v3.85h-3.90zM211.50 177.30h3.90v3.85h-3.90zM215.40 177.30h3.90v3.85h-3.90zM219.30 177.30h3.90v3.85h-3.90zM223.20 177.30h3.90v3.85h-3.90zM227.10 177.30h3.90v3.85h-3.90zM231.00 177.30h3.90v3.85h-3.90zM234.90 177.30h3.90v3.85h-3.90zM238.80 177.30h3.90v3.85h-3.90zM211.50 181.15h3.90v3.85h-3.90zM215.40 181.15h3.90v3.85h-3.90zM219.30 181.15h3.90v3.85h-3.90zM223.20 181.15h3.90v3.85h-3.90zM227.10 181.15h3.90v3.85h-3.90zM231.00 181.15h3.90v3.85h-3.90zM234.90 181.15h3.90v3.85h-3.90zM238.80 181.15h3.90v3.85h-3.90zM219.30 185.00h3.90v3.85h-3.90zM223.20 185.00h3.90v3.85h-3.90zM234.90 185.00h3.90v3.85h-3.90zM238.80 185.00h3.90v3.85h-3.90zM219.30 188.85h3.90v3.85h-3.90zM223.20 188.85h3.90v3.85h-3.90zM234.90 188.85h3.90v3.85h-3.90zM238.80 188.85h3.90v3.85h-3.90zM211.50 192.70h3.90v3.85h-3.90zM215.40 192.70h3.90v3.85h-3.90zM219.30 192.70h3.90v3.85h-3.90zM223.20 192.70h3.90v3.85h-3.90zM227.10 192.70h3.90v3.85h-3.90zM231.00 192.70h3.90v3.85h-3.90zM234.90 192.70h3.90v3.85h-3.90zM238.80 192.70h3.90v3.85h-3.90zM211.50 196.55h3.90v3.85h-3.90zM215.40 196.55h3.90v3.85h-3.90zM219.30 196.55h3.90v3.85h-3.90zM223.20 196.55h3.90v3.85h-3.90zM227.10 196.55h3.90v3.85h-3.90zM231.00 196.55h3.90v3.85h-3.90zM234.90 196.55h3.90v3.85h-3.90zM238.80 196.55h3.90v3.85h-3.90z"/><path fill="none" stroke="#c6c6c6" stroke-width="0.9" d="M247.50 169.60V200.40M247.50 169.60H278.70M251.40 169.60V200.40M247.50 173.45H278.70M255.30 169.60V200.40M247.50 177.30H278.70M259.20 169.60V200.40M247.50 181.15H278.70M263.10 169.60V200.40M247.50 185.00H278.70M267.00 169.60V200.40M247.50 188.85H278.70M270.90 169.60V200.40M247.50 192.70H278.70M274.80 169.60V200.40M247.50 196.55H278.70M278.70 169.60V200.40M247.50 200.40H278.70"/><path fill="#b8000f" stroke="#f28088" stroke-width="0.9" d="M251.40 169.60h3.90v3.85h-3.90zM259.20 169.60h3.90v3.85h-3.90zM267.00 169.60h3.90v3.85h-3.90zM274.80 169.60h3.90v3.85h-3.90zM247.50 173.45h3.90v3.85h-3.90zM251.40 173.45h3.90v3.85h-3.90zM255.30 173.45h3.90v3.85h-3.90zM259.20 173.45h3.90v3.85h-3.90zM263.10 173.45h3.90v3.85h-3.90zM267.00 173.45h3.90v3.85h-3.90zM270.90 173.45h3.90v3.85h-3.90zM274.80 173.45h3.90v3.85h-3.90zM251.40 177.30h3.90v3.85h-3.90zM259.20 177.30h3.90v3.85h-3.90zM267.00 177.30h3.90v3.85h-3.90zM274.80 177.30h3.90v3.85h-3.90zM247.50 181.15h3.90v3.85h-3.90zM251.40 181.15h3.90v3.85h-3.90zM255.30 181.15h3.90v3.85h-3.90zM259.20 181.15h3.90v3.85h-3.90zM263.10 181.15h3.90v3.85h-3.90zM267.00 181.15h3.90v3.85h-3.90zM270.90 181.15h3.90v3.85h-3.90zM274.80 181.15h3.90v3.85h-3.90zM251.40 185.00h3.90v3.85h-3.90zM259.20 185.00h3.90v3.85h-3.90zM267.00 185.00h3.90v3.85h-3.90zM274.80 185.00h3.90v3.85h-3.90zM247.50 188.85h3.90v3.85h-3.90zM251.40 188.85h3.90v3.85h-3.90zM255.30 188.85h3.90v3.85h-3.90zM259.20 188.85h3.90v3.85h-3.90zM263.10 188.85h3.90v3.85h-3.90zM267.00 188.85h3.90v3.85h-3.90zM270.90 188.85h3.90v3.85h-3.90zM274.80 188.85h3.90v3.85h-3.90zM251.40 192.70h3.90v3.85h-3.90zM259.20 192.70h3.90v3.85h-3.90zM267.00 192.70h3.90v3.85h-3.90zM274.80 192.70h3.90v3.85h-3.90zM247.50 196.55h3.90v3.85h-3.90zM251.40 196.55h3.90v3.85h-3.90zM255.30 196.55h3.90v3.85h-3.90zM259.20 196.55h3.90v3.85h-3.90zM263.10 196.55h3.90v3.85h-3.90zM267.00 196.55h3.90v3.85h-3.90zM270.90 196.55h3.90v3.85h-3.90zM274.80 196.55h3.90v3.85h-3.90z"/><path fill="none" stroke="#c6c6c6" stroke-width="0.9" d="M283.50 169.60V200.40M283.50 169.60H314.70M287.40 169.60V200.40M283.50 173.45H314.70M291.30 169.60V200.40M283.50 177.30H314.70M295.20 169.60V200.40M283.50 181.15H314.70M299.10 169.60V200.40M283.50 185.00H314.70M303.00 169.60V200.40M283.50 188.85H314.70M306.90 169.60V200.40M283.50 192.70H314.70M310.80 169.60V200.40M283.50 196.55H314.70M314.70 169.60V200.40M283.50 200.40H314.70"/><path fill="#b8000f" stroke="#f28088" stroke-width="0.9" d="M283.50 169.60h3.90v3.85h-3.90zM287.40 169.60h3.90v3.85h-3.90zM291.30 169.60h3.90v3.85h-3.90zM295.20 169.60h3.90v3.85h-3.90zM299.10 169.60h3.90v3.85h-3.90zM303.00 169.60h3.90v3.85h-3.90zM306.90 169.60h3.90v3.85h-3.90zM310.80 169.60h3.90v3.85h-3.90zM283.50 173.45h3.90v3.85h-3.90zM287.40 173.45h3.90v3.85h-3.90zM291.30 173.45h3.90v3.85h-3.90zM295.20 173.45h3.90v3.85h-3.90zM299.10 173.45h3.90v3.85h-3.90zM303.00 173.45h3.90v3.85h-3.90zM306.90 173.45h3.90v3.85h-3.90zM310.80 173.45h3.90v3.85h-3.90zM283.50 177.30h3.90v3.85h-3.90zM287.40 177.30h3.90v3.85h-3.90zM291.30 177.30h3.90v3.85h-3.90zM295.20 177.30h3.90v3.85h-3.90zM299.10 177.30h3.90v3.85h-3.90zM303.00 177.30h3.90v3.85h-3.90zM306.90 177.30h3.90v3.85h-3.90zM310.80 177.30h3.90v3.85h-3.90zM283.50 181.15h3.90v3.85h-3.90zM287.40 181.15h3.90v3.85h-3.90zM291.30 181.15h3.90v3.85h-3.90zM295.20 181.15h3.90v3.85h-3.90zM299.10 181.15h3.90v3.85h-3.90zM303.00 181.15h3.90v3.85h-3.90zM306.90 181.15h3.90v3.85h-3.90zM310.80 181.15h3.90v3.85h-3.90zM283.50 185.00h3.90v3.85h-3.90zM287.40 185.00h3.90v3.85h-3.90zM291.30 185.00h3.90v3.85h-3.90zM295.20 185.00h3.90v3.85h-3.90zM299.10 185.00h3.90v3.85h-3.90zM303.00 185.00h3.90v3.85h-3.90zM306.90 185.00h3.90v3.85h-3.90zM310.80 185.00h3.90v3.85h-3.90zM283.50 188.85h3.90v3.85h-3.90zM287.40 188.85h3.90v3.85h-3.90zM291.30 188.85h3.90v3.85h-3.90zM295.20 188.85h3.90v3.85h-3.90zM299.10 188.85h3.90v3.85h-3.90zM303.00 188.85h3.90v3.85h-3.90zM306.90 188.85h3.90v3.85h-3.90zM310.80 188.85h3.90v3.85h-3.90zM283.50 192.70h3.90v3.85h-3.90zM287.40 192.70h3.90v3.85h-3.90zM291.30 192.70h3.90v3.85h-3.90zM295.20 192.70h3.90v3.85h-3.90zM299.10 192.70h3.90v3.85h-3.90zM303.00 192.70h3.90v3.85h-3.90zM306.90 192.70h3.90v3.85h-3.90zM310.80 192.70h3.90v3.85h-3.90zM283.50 196.55h3.90v3.85h-3.90zM287.40 196.55h3.90v3.85h-3.90zM291.30 196.55h3.90v3.85h-3.90zM295.20 196.55h3.90v3.85h-3.90zM299.10 196.55h3.90v3.85h-3.90zM303.00 196.55h3.90v3.85h-3.90zM306.90 196.55h3.90v3.85h-3.90zM310.80 196.55h3.90v3.85h-3.90z"/><rect x="343.60" y="164.60" width="292.20" height="39.90" fill="#fff" stroke="#404040" stroke-width="1.4"/><path fill="none" stroke="#c6c6c6" stroke-width="0.9" d="M348.60 169.60V200.40M348.60 169.60H379.80M352.50 169.60V200.40M348.60 173.45H379.80M356.40 169.60V200.40M348.60 177.30H379.80M360.30 169.60V200.40M348.60 181.15H379.80M364.20 169.60V200.40M348.60 185.00H379.80M368.10 169.60V200.40M348.60 188.85H379.80M372.00 169.60V200.40M348.60 192.70H379.80M375.90 169.60V200.40M348.60 196.55H379.80M379.80 169.60V200.40M348.60 200.40H379.80"/><path fill="#b8000f" stroke="#f28088" stroke-width="0.9" d="M352.50 169.60h3.90v3.85h-3.90zM360.30 169.60h3.90v3.85h-3.90zM368.10 169.60h3.90v3.85h-3.90zM375.90 169.60h3.90v3.85h-3.90zM352.50 173.45h3.90v3.85h-3.90zM360.30 173.45h3.90v3.85h-3.90zM368.10 173.45h3.90v3.85h-3.90zM375.90 173.45h3.90v3.85h-3.90zM352.50 177.30h3.90v3.85h-3.90zM360.30 177.30h3.90v3.85h-3.90zM368.10 177.30h3.90v3.85h-3.90zM375.90 177.30h3.90v3.85h-3.90zM352.50 181.15h3.90v3.85h-3.90zM360.30 181.15h3.90v3.85h-3.90zM368.10 181.15h3.90v3.85h-3.90zM375.90 181.15h3.90v3.85h-3.90zM348.60 185.00h3.90v3.85h-3.90zM352.50 185.00h3.90v3.85h-3.90zM356.40 185.00h3.90v3.85h-3.90zM360.30 185.00h3.90v3.85h-3.90zM364.20 185.00h3.90v3.85h-3.90zM368.10 185.00h3.90v3.85h-3.90zM372.00 185.00h3.90v3.85h-3.90zM375.90 185.00h3.90v3.85h-3.90zM348.60 188.85h3.90v3.85h-3.90zM352.50 188.85h3.90v3.85h-3.90zM356.40 188.85h3.90v3.85h-3.90zM360.30 188.85h3.90v3.85h-3.90zM364.20 188.85h3.90v3.85h-3.90zM368.10 188.85h3.90v3.85h-3.90zM372.00 188.85h3.90v3.85h-3.90zM375.90 188.85h3.90v3.85h-3.90zM348.60 192.70h3.90v3.85h-3.90zM352.50 192.70h3.90v3.85h-3.90zM356.40 192.70h3.90v3.85h-3.90zM360.30 192.70h3.90v3.85h-3.90zM364.20 192.70h3.90v3.85h-3.90zM368.10 192.70h3.90v3.85h-3.90zM372.00 192.70h3.90v3.85h-3.90zM375.90 192.70h3.90v3.85h-3.90zM348.60 196.55h3.90v3.85h-3.90zM352.50 196.55h3.90v3.85h-3.90zM356.40 196.55h3.90v3.85h-3.90zM360.30 196.55h3.90v3.85h-3.90zM364.20 196.55h3.90v3.85h-3.90zM368.10 196.55h3.90v3.85h-3.90zM372.00 196.55h3.90v3.85h-3.90zM375.90 196.55h3.90v3.85h-3.90z"/><path fill="none" stroke="#c6c6c6" stroke-width="0.9" d="M384.60 169.60V200.40M384.60 169.60H415.80M388.50 169.60V200.40M384.60 173.45H415.80M392.40 169.60V200.40M384.60 177.30H415.80M396.30 169.60V200.40M384.60 181.15H415.80M400.20 169.60V200.40M384.60 185.00H415.80M404.10 169.60V200.40M384.60 188.85H415.80M408.00 169.60V200.40M384.60 192.70H415.80M411.90 169.60V200.40M384.60 196.55H415.80M415.80 169.60V200.40M384.60 200.40H415.80"/><path fill="#b8000f" stroke="#f28088" stroke-width="0.9" d="M388.50 169.60h3.90v3.85h-3.90zM396.30 169.60h3.90v3.85h-3.90zM404.10 169.60h3.90v3.85h-3.90zM411.90 169.60h3.90v3.85h-3.90zM388.50 173.45h3.90v3.85h-3.90zM396.30 173.45h3.90v3.85h-3.90zM404.10 173.45h3.90v3.85h-3.90zM411.90 173.45h3.90v3.85h-3.90zM388.50 177.30h3.90v3.85h-3.90zM396.30 177.30h3.90v3.85h-3.90zM404.10 177.30h3.90v3.85h-3.90zM411.90 177.30h3.90v3.85h-3.90zM388.50 181.15h3.90v3.85h-3.90zM396.30 181.15h3.90v3.85h-3.90zM404.10 181.15h3.90v3.85h-3.90zM411.90 181.15h3.90v3.85h-3.90zM384.60 185.00h3.90v3.85h-3.90zM388.50 185.00h3.90v3.85h-3.90zM392.40 185.00h3.90v3.85h-3.90zM396.30 185.00h3.90v3.85h-3.90zM400.20 185.00h3.90v3.85h-3.90zM404.10 185.00h3.90v3.85h-3.90zM408.00 185.00h3.90v3.85h-3.90zM411.90 185.00h3.90v3.85h-3.90zM384.60 188.85h3.90v3.85h-3.90zM388.50 188.85h3.90v3.85h-3.90zM392.40 188.85h3.90v3.85h-3.90zM396.30 188.85h3.90v3.85h-3.90zM400.20 188.85h3.90v3.85h-3.90zM404.10 188.85h3.90v3.85h-3.90zM408.00 188.85h3.90v3.85h-3.90zM411.90 188.85h3.90v3.85h-3.90zM384.60 192.70h3.90v3.85h-3.90zM388.50 192.70h3.90v3.85h-3.90zM392.40 192.70h3.90v3.85h-3.90zM396.30 192.70h3.90v3.85h-3.90zM400.20 192.70h3.90v3.85h-3.90zM404.10 192.70h3.90v3.85h-3.90zM408.00 192.70h3.90v3.85h-3.90zM411.90 192.70h3.90v3.85h-3.90zM384.60 196.55h3.90v3.85h-3.90zM388.50 196.55h3.90v3.85h-3.90zM392.40 196.55h3.90v3.85h-3.90zM396.30 196.55h3.90v3.85h-3.90zM400.20 196.55h3.90v3.85h-3.90zM404.10 196.55h3.90v3.85h-3.90zM408.00 196.55h3.90v3.85h-3.90zM411.90 196.55h3.90v3.85h-3.90z"/><path fill="none" stroke="#c6c6c6" stroke-width="0.9" d="M420.60 169.60V200.40M420.60 169.60H451.80M424.50 169.60V200.40M420.60 173.45H451.80M428.40 169.60V200.40M420.60 177.30H451.80M432.30 169.60V200.40M420.60 181.15H451.80M436.20 169.60V200.40M420.60 185.00H451.80M440.10 169.60V200.40M420.60 188.85H451.80M444.00 169.60V200.40M420.60 192.70H451.80M447.90 169.60V200.40M420.60 196.55H451.80M451.80 169.60V200.40M420.60 200.40H451.80"/><path fill="#b8000f" stroke="#f28088" stroke-width="0.9" d="M420.60 169.60h3.90v3.85h-3.90zM424.50 169.60h3.90v3.85h-3.90zM428.40 169.60h3.90v3.85h-3.90zM432.30 169.60h3.90v3.85h-3.90zM436.20 169.60h3.90v3.85h-3.90zM440.10 169.60h3.90v3.85h-3.90zM444.00 169.60h3.90v3.85h-3.90zM447.90 169.60h3.90v3.85h-3.90zM420.60 173.45h3.90v3.85h-3.90zM424.50 173.45h3.90v3.85h-3.90zM428.40 173.45h3.90v3.85h-3.90zM432.30 173.45h3.90v3.85h-3.90zM436.20 173.45h3.90v3.85h-3.90zM440.10 173.45h3.90v3.85h-3.90zM444.00 173.45h3.90v3.85h-3.90zM447.90 173.45h3.90v3.85h-3.90zM420.60 177.30h3.90v3.85h-3.90zM424.50 177.30h3.90v3.85h-3.90zM428.40 177.30h3.90v3.85h-3.90zM432.30 177.30h3.90v3.85h-3.90zM436.20 177.30h3.90v3.85h-3.90zM440.10 177.30h3.90v3.85h-3.90zM444.00 177.30h3.90v3.85h-3.90zM447.90 177.30h3.90v3.85h-3.90zM420.60 181.15h3.90v3.85h-3.90zM424.50 181.15h3.90v3.85h-3.90zM428.40 181.15h3.90v3.85h-3.90zM432.30 181.15h3.90v3.85h-3.90zM436.20 181.15h3.90v3.85h-3.90zM440.10 181.15h3.90v3.85h-3.90zM444.00 181.15h3.90v3.85h-3.90zM447.90 181.15h3.90v3.85h-3.90zM420.60 185.00h3.90v3.85h-3.90zM424.50 185.00h3.90v3.85h-3.90zM428.40 185.00h3.90v3.85h-3.90zM432.30 185.00h3.90v3.85h-3.90zM436.20 185.00h3.90v3.85h-3.90zM440.10 185.00h3.90v3.85h-3.90zM444.00 185.00h3.90v3.85h-3.90zM447.90 185.00h3.90v3.85h-3.90zM420.60 188.85h3.90v3.85h-3.90zM424.50 188.85h3.90v3.85h-3.90zM428.40 188.85h3.90v3.85h-3.90zM432.30 188.85h3.90v3.85h-3.90zM436.20 188.85h3.90v3.85h-3.90zM440.10 188.85h3.90v3.85h-3.90zM444.00 188.85h3.90v3.85h-3.90zM447.90 188.85h3.90v3.85h-3.90zM420.60 192.70h3.90v3.85h-3.90zM424.50 192.70h3.90v3.85h-3.90zM428.40 192.70h3.90v3.85h-3.90zM432.30 192.70h3.90v3.85h-3.90zM436.20 192.70h3.90v3.85h-3.90zM440.10 192.70h3.90v3.85h-3.90zM444.00 192.70h3.90v3.85h-3.90zM447.90 192.70h3.90v3.85h-3.90zM420.60 196.55h3.90v3.85h-3.90zM424.50 196.55h3.90v3.85h-3.90zM428.40 196.55h3.90v3.85h-3.90zM432.30 196.55h3.90v3.85h-3.90zM436.20 196.55h3.90v3.85h-3.90zM440.10 196.55h3.90v3.85h-3.90zM444.00 196.55h3.90v3.85h-3.90zM447.90 196.55h3.90v3.85h-3.90z"/><path fill="none" stroke="#c6c6c6" stroke-width="0.9" d="M456.60 169.60V200.40M456.60 169.60H487.80M460.50 169.60V200.40M456.60 173.45H487.80M464.40 169.60V200.40M456.60 177.30H487.80M468.30 169.60V200.40M456.60 181.15H487.80M472.20 169.60V200.40M456.60 185.00H487.80M476.10 169.60V200.40M456.60 188.85H487.80M480.00 169.60V200.40M456.60 192.70H487.80M483.90 169.60V200.40M456.60 196.55H487.80M487.80 169.60V200.40M456.60 200.40H487.80"/><path fill="#b8000f" stroke="#f28088" stroke-width="0.9" d="M456.60 169.60h3.90v3.85h-3.90zM460.50 169.60h3.90v3.85h-3.90zM464.40 169.60h3.90v3.85h-3.90zM468.30 169.60h3.90v3.85h-3.90zM472.20 169.60h3.90v3.85h-3.90zM476.10 169.60h3.90v3.85h-3.90zM480.00 169.60h3.90v3.85h-3.90zM483.90 169.60h3.90v3.85h-3.90zM456.60 173.45h3.90v3.85h-3.90zM460.50 173.45h3.90v3.85h-3.90zM464.40 173.45h3.90v3.85h-3.90zM468.30 173.45h3.90v3.85h-3.90zM472.20 173.45h3.90v3.85h-3.90zM476.10 173.45h3.90v3.85h-3.90zM480.00 173.45h3.90v3.85h-3.90zM483.90 173.45h3.90v3.85h-3.90zM456.60 177.30h3.90v3.85h-3.90zM460.50 177.30h3.90v3.85h-3.90zM464.40 177.30h3.90v3.85h-3.90zM468.30 177.30h3.90v3.85h-3.90zM472.20 177.30h3.90v3.85h-3.90zM476.10 177.30h3.90v3.85h-3.90zM480.00 177.30h3.90v3.85h-3.90zM483.90 177.30h3.90v3.85h-3.90zM456.60 181.15h3.90v3.85h-3.90zM460.50 181.15h3.90v3.85h-3.90zM464.40 181.15h3.90v3.85h-3.90zM468.30 181.15h3.90v3.85h-3.90zM472.20 181.15h3.90v3.85h-3.90zM476.10 181.15h3.90v3.85h-3.90zM480.00 181.15h3.90v3.85h-3.90zM483.90 181.15h3.90v3.85h-3.90zM456.60 185.00h3.90v3.85h-3.90zM460.50 185.00h3.90v3.85h-3.90zM464.40 185.00h3.90v3.85h-3.90zM468.30 185.00h3.90v3.85h-3.90zM472.20 185.00h3.90v3.85h-3.90zM476.10 185.00h3.90v3.85h-3.90zM480.00 185.00h3.90v3.85h-3.90zM483.90 185.00h3.90v3.85h-3.90zM456.60 188.85h3.90v3.85h-3.90zM460.50 188.85h3.90v3.85h-3.90zM464.40 188.85h3.90v3.85h-3.90zM468.30 188.85h3.90v3.85h-3.90zM472.20 188.85h3.90v3.85h-3.90zM476.10 188.85h3.90v3.85h-3.90zM480.00 188.85h3.90v3.85h-3.90zM483.90 188.85h3.90v3.85h-3.90zM456.60 192.70h3.90v3.85h-3.90zM460.50 192.70h3.90v3.85h-3.90zM464.40 192.70h3.90v3.85h-3.90zM468.30 192.70h3.90v3.85h-3.90zM472.20 192.70h3.90v3.85h-3.90zM476.10 192.70h3.90v3.85h-3.90zM480.00 192.70h3.90v3.85h-3.90zM483.90 192.70h3.90v3.85h-3.90zM456.60 196.55h3.90v3.85h-3.90zM460.50 196.55h3.90v3.85h-3.90zM464.40 196.55h3.90v3.85h-3.90zM468.30 196.55h3.90v3.85h-3.90zM472.20 196.55h3.90v3.85h-3.90zM476.10 196.55h3.90v3.85h-3.90zM480.00 196.55h3.90v3.85h-3.90zM483.90 196.55h3.90v3.85h-3.90z"/><path fill="none" stroke="#c6c6c6" stroke-width="0.9" d="M492.60 169.60V200.40M492.60 169.60H523.80M496.50 169.60V200.40M492.60 173.45H523.80M500.40 169.60V200.40M492.60 177.30H523.80M504.30 169.60V200.40M492.60 181.15H523.80M508.20 169.60V200.40M492.60 185.00H523.80M512.10 169.60V200.40M492.60 188.85H523.80M516.00 169.60V200.40M492.60 192.70H523.80M519.90 169.60V200.40M492.60 196.55H523.80M523.80 169.60V200.40M492.60 200.40H523.80"/><path fill="#b8000f" stroke="#f28088" stroke-width="0.9" d="M496.50 169.60h3.90v3.85h-3.90zM504.30 169.60h3.90v3.85h-3.90zM512.10 169.60h3.90v3.85h-3.90zM519.90 169.60h3.90v3.85h-3.90zM496.50 173.45h3.90v3.85h-3.90zM504.30 173.45h3.90v3.85h-3.90zM512.10 173.45h3.90v3.85h-3.90zM519.90 173.45h3.90v3.85h-3.90zM496.50 177.30h3.90v3.85h-3.90zM504.30 177.30h3.90v3.85h-3.90zM512.10 177.30h3.90v3.85h-3.90zM519.90 177.30h3.90v3.85h-3.90zM496.50 181.15h3.90v3.85h-3.90zM504.30 181.15h3.90v3.85h-3.90zM512.10 181.15h3.90v3.85h-3.90zM519.90 181.15h3.90v3.85h-3.90zM492.60 185.00h3.90v3.85h-3.90zM496.50 185.00h3.90v3.85h-3.90zM500.40 185.00h3.90v3.85h-3.90zM504.30 185.00h3.90v3.85h-3.90zM508.20 185.00h3.90v3.85h-3.90zM512.10 185.00h3.90v3.85h-3.90zM516.00 185.00h3.90v3.85h-3.90zM519.90 185.00h3.90v3.85h-3.90zM492.60 188.85h3.90v3.85h-3.90zM496.50 188.85h3.90v3.85h-3.90zM500.40 188.85h3.90v3.85h-3.90zM504.30 188.85h3.90v3.85h-3.90zM508.20 188.85h3.90v3.85h-3.90zM512.10 188.85h3.90v3.85h-3.90zM516.00 188.85h3.90v3.85h-3.90zM519.90 188.85h3.90v3.85h-3.90zM492.60 192.70h3.90v3.85h-3.90zM496.50 192.70h3.90v3.85h-3.90zM500.40 192.70h3.90v3.85h-3.90zM504.30 192.70h3.90v3.85h-3.90zM508.20 192.70h3.90v3.85h-3.90zM512.10 192.70h3.90v3.85h-3.90zM516.00 192.70h3.90v3.85h-3.90zM519.90 192.70h3.90v3.85h-3.90zM492.60 196.55h3.90v3.85h-3.90zM496.50 196.55h3.90v3.85h-3.90zM500.40 196.55h3.90v3.85h-3.90zM504.30 196.55h3.90v3.85h-3.90zM508.20 196.55h3.90v3.85h-3.90zM512.10 196.55h3.90v3.85h-3.90zM516.00 196.55h3.90v3.85h-3.90zM519.90 196.55h3.90v3.85h-3.90z"/><path fill="none" stroke="#c6c6c6" stroke-width="0.9" d="M528.60 169.60V200.40M528.60 169.60H559.80M532.50 169.60V200.40M528.60 173.45H559.80M536.40 169.60V200.40M528.60 177.30H559.80M540.30 169.60V200.40M528.60 181.15H559.80M544.20 169.60V200.40M528.60 185.00H559.80M548.10 169.60V200.40M528.60 188.85H559.80M552.00 169.60V200.40M528.60 192.70H559.80M555.90 169.60V200.40M528.60 196.55H559.80M559.80 169.60V200.40M528.60 200.40H559.80"/><path fill="#b8000f" stroke="#f28088" stroke-width="0.9" d="M532.50 169.60h3.90v3.85h-3.90zM540.30 169.60h3.90v3.85h-3.90zM548.10 169.60h3.90v3.85h-3.90zM555.90 169.60h3.90v3.85h-3.90zM532.50 173.45h3.90v3.85h-3.90zM540.30 173.45h3.90v3.85h-3.90zM548.10 173.45h3.90v3.85h-3.90zM555.90 173.45h3.90v3.85h-3.90zM532.50 177.30h3.90v3.85h-3.90zM540.30 177.30h3.90v3.85h-3.90zM548.10 177.30h3.90v3.85h-3.90zM555.90 177.30h3.90v3.85h-3.90zM532.50 181.15h3.90v3.85h-3.90zM540.30 181.15h3.90v3.85h-3.90zM548.10 181.15h3.90v3.85h-3.90zM555.90 181.15h3.90v3.85h-3.90zM528.60 185.00h3.90v3.85h-3.90zM532.50 185.00h3.90v3.85h-3.90zM536.40 185.00h3.90v3.85h-3.90zM540.30 185.00h3.90v3.85h-3.90zM544.20 185.00h3.90v3.85h-3.90zM548.10 185.00h3.90v3.85h-3.90zM552.00 185.00h3.90v3.85h-3.90zM555.90 185.00h3.90v3.85h-3.90zM528.60 188.85h3.90v3.85h-3.90zM532.50 188.85h3.90v3.85h-3.90zM536.40 188.85h3.90v3.85h-3.90zM540.30 188.85h3.90v3.85h-3.90zM544.20 188.85h3.90v3.85h-3.90zM548.10 188.85h3.90v3.85h-3.90zM552.00 188.85h3.90v3.85h-3.90zM555.90 188.85h3.90v3.85h-3.90zM528.60 192.70h3.90v3.85h-3.90zM532.50 192.70h3.90v3.85h-3.90zM536.40 192.70h3.90v3.85h-3.90zM540.30 192.70h3.90v3.85h-3.90zM544.20 192.70h3.90v3.85h-3.90zM548.10 192.70h3.90v3.85h-3.90zM552.00 192.70h3.90v3.85h-3.90zM555.90 192.70h3.90v3.85h-3.90zM528.60 196.55h3.90v3.85h-3.90zM532.50 196.55h3.90v3.85h-3.90zM536.40 196.55h3.90v3.85h-3.90zM540.30 196.55h3.90v3.85h-3.90zM544.20 196.55h3.90v3.85h-3.90zM548.10 196.55h3.90v3.85h-3.90zM552.00 196.55h3.90v3.85h-3.90zM555.90 196.55h3.90v3.85h-3.90z"/><path fill="none" stroke="#c6c6c6" stroke-width="0.9" d="M564.60 169.60V200.40M564.60 169.60H595.80M568.50 169.60V200.40M564.60 173.45H595.80M572.40 169.60V200.40M564.60 177.30H595.80M576.30 169.60V200.40M564.60 181.15H595.80M580.20 169.60V200.40M564.60 185.00H595.80M584.10 169.60V200.40M564.60 188.85H595.80M588.00 169.60V200.40M564.60 192.70H595.80M591.90 169.60V200.40M564.60 196.55H595.80M595.80 169.60V200.40M564.60 200.40H595.80"/><path fill="#b8000f" stroke="#f28088" stroke-width="0.9" d="M564.60 169.60h3.90v3.85h-3.90zM568.50 169.60h3.90v3.85h-3.90zM572.40 169.60h3.90v3.85h-3.90zM576.30 169.60h3.90v3.85h-3.90zM580.20 169.60h3.90v3.85h-3.90zM584.10 169.60h3.90v3.85h-3.90zM588.00 169.60h3.90v3.85h-3.90zM591.90 169.60h3.90v3.85h-3.90zM564.60 173.45h3.90v3.85h-3.90zM568.50 173.45h3.90v3.85h-3.90zM572.40 173.45h3.90v3.85h-3.90zM576.30 173.45h3.90v3.85h-3.90zM580.20 173.45h3.90v3.85h-3.90zM584.10 173.45h3.90v3.85h-3.90zM588.00 173.45h3.90v3.85h-3.90zM591.90 173.45h3.90v3.85h-3.90zM564.60 177.30h3.90v3.85h-3.90zM568.50 177.30h3.90v3.85h-3.90zM572.40 177.30h3.90v3.85h-3.90zM576.30 177.30h3.90v3.85h-3.90zM580.20 177.30h3.90v3.85h-3.90zM584.10 177.30h3.90v3.85h-3.90zM588.00 177.30h3.90v3.85h-3.90zM591.90 177.30h3.90v3.85h-3.90zM564.60 181.15h3.90v3.85h-3.90zM568.50 181.15h3.90v3.85h-3.90zM572.40 181.15h3.90v3.85h-3.90zM576.30 181.15h3.90v3.85h-3.90zM580.20 181.15h3.90v3.85h-3.90zM584.10 181.15h3.90v3.85h-3.90zM588.00 181.15h3.90v3.85h-3.90zM591.90 181.15h3.90v3.85h-3.90zM564.60 185.00h3.90v3.85h-3.90zM568.50 185.00h3.90v3.85h-3.90zM572.40 185.00h3.90v3.85h-3.90zM576.30 185.00h3.90v3.85h-3.90zM580.20 185.00h3.90v3.85h-3.90zM584.10 185.00h3.90v3.85h-3.90zM588.00 185.00h3.90v3.85h-3.90zM591.90 185.00h3.90v3.85h-3.90zM564.60 188.85h3.90v3.85h-3.90zM568.50 188.85h3.90v3.85h-3.90zM572.40 188.85h3.90v3.85h-3.90zM576.30 188.85h3.90v3.85h-3.90zM580.20 188.85h3.90v3.85h-3.90zM584.10 188.85h3.90v3.85h-3.90zM588.00 188.85h3.90v3.85h-3.90zM591.90 188.85h3.90v3.85h-3.90zM564.60 192.70h3.90v3.85h-3.90zM568.50 192.70h3.90v3.85h-3.90zM572.40 192.70h3.90v3.85h-3.90zM576.30 192.70h3.90v3.85h-3.90zM580.20 192.70h3.90v3.85h-3.90zM584.10 192.70h3.90v3.85h-3.90zM588.00 192.70h3.90v3.85h-3.90zM591.90 192.70h3.90v3.85h-3.90zM564.60 196.55h3.90v3.85h-3.90zM568.50 196.55h3.90v3.85h-3.90zM572.40 196.55h3.90v3.85h-3.90zM576.30 196.55h3.90v3.85h-3.90zM580.20 196.55h3.90v3.85h-3.90zM584.10 196.55h3.90v3.85h-3.90zM588.00 196.55h3.90v3.85h-3.90zM591.90 196.55h3.90v3.85h-3.90z"/><path fill="none" stroke="#c6c6c6" stroke-width="0.9" d="M600.60 169.60V200.40M600.60 169.60H631.80M604.50 169.60V200.40M600.60 173.45H631.80M608.40 169.60V200.40M600.60 177.30H631.80M612.30 169.60V200.40M600.60 181.15H631.80M616.20 169.60V200.40M600.60 185.00H631.80M620.10 169.60V200.40M600.60 188.85H631.80M624.00 169.60V200.40M600.60 192.70H631.80M627.90 169.60V200.40M600.60 196.55H631.80M631.80 169.60V200.40M600.60 200.40H631.80"/><path fill="#b8000f" stroke="#f28088" stroke-width="0.9" d="M600.60 169.60h3.90v3.85h-3.90zM604.50 169.60h3.90v3.85h-3.90zM608.40 169.60h3.90v3.85h-3.90zM612.30 169.60h3.90v3.85h-3.90zM616.20 169.60h3.90v3.85h-3.90zM620.10 169.60h3.90v3.85h-3.90zM624.00 169.60h3.90v3.85h-3.90zM627.90 169.60h3.90v3.85h-3.90zM600.60 173.45h3.90v3.85h-3.90zM604.50 173.45h3.90v3.85h-3.90zM608.40 173.45h3.90v3.85h-3.90zM612.30 173.45h3.90v3.85h-3.90zM616.20 173.45h3.90v3.85h-3.90zM620.10 173.45h3.90v3.85h-3.90zM624.00 173.45h3.90v3.85h-3.90zM627.90 173.45h3.90v3.85h-3.90zM600.60 177.30h3.90v3.85h-3.90zM604.50 177.30h3.90v3.85h-3.90zM608.40 177.30h3.90v3.85h-3.90zM612.30 177.30h3.90v3.85h-3.90zM616.20 177.30h3.90v3.85h-3.90zM620.10 177.30h3.90v3.85h-3.90zM624.00 177.30h3.90v3.85h-3.90zM627.90 177.30h3.90v3.85h-3.90zM600.60 181.15h3.90v3.85h-3.90zM604.50 181.15h3.90v3.85h-3.90zM608.40 181.15h3.90v3.85h-3.90zM612.30 181.15h3.90v3.85h-3.90zM616.20 181.15h3.90v3.85h-3.90zM620.10 181.15h3.90v3.85h-3.90zM624.00 181.15h3.90v3.85h-3.90zM627.90 181.15h3.90v3.85h-3.90zM600.60 185.00h3.90v3.85h-3.90zM604.50 185.00h3.90v3.85h-3.90zM608.40 185.00h3.90v3.85h-3.90zM612.30 185.00h3.90v3.85h-3.90zM616.20 185.00h3.90v3.85h-3.90zM620.10 185.00h3.90v3.85h-3.90zM624.00 185.00h3.90v3.85h-3.90zM627.90 185.00h3.90v3.85h-3.90zM600.60 188.85h3.90v3.85h-3.90zM604.50 188.85h3.90v3.85h-3.90zM608.40 188.85h3.90v3.85h-3.90zM612.30 188.85h3.90v3.85h-3.90zM616.20 188.85h3.90v3.85h-3.90zM620.10 188.85h3.90v3.85h-3.90zM624.00 188.85h3.90v3.85h-3.90zM627.90 188.85h3.90v3.85h-3.90zM600.60 192.70h3.90v3.85h-3.90zM604.50 192.70h3.90v3.85h-3.90zM608.40 192.70h3.90v3.85h-3.90zM612.30 192.70h3.90v3.85h-3.90zM616.20 192.70h3.90v3.85h-3.90zM620.10 192.70h3.90v3.85h-3.90zM624.00 192.70h3.90v3.85h-3.90zM627.90 192.70h3.90v3.85h-3.90zM600.60 196.55h3.90v3.85h-3.90zM604.50 196.55h3.90v3.85h-3.90zM608.40 196.55h3.90v3.85h-3.90zM612.30 196.55h3.90v3.85h-3.90zM616.20 196.55h3.90v3.85h-3.90zM620.10 196.55h3.90v3.85h-3.90zM624.00 196.55h3.90v3.85h-3.90zM627.90 196.55h3.90v3.85h-3.90z"/><rect x="662.50" y="164.60" width="292.00" height="39.90" fill="#fff" stroke="#404040" stroke-width="1.4"/><path fill="none" stroke="#c6c6c6" stroke-width="0.9" d="M667.50 169.60V200.40M667.50 169.60H698.70M671.40 169.60V200.40M667.50 173.45H698.70M675.30 169.60V200.40M667.50 177.30H698.70M679.20 169.60V200.40M667.50 181.15H698.70M683.10 169.60V200.40M667.50 185.00H698.70M687.00 169.60V200.40M667.50 188.85H698.70M690.90 169.60V200.40M667.50 192.70H698.70M694.80 169.60V200.40M667.50 196.55H698.70M698.70 169.60V200.40M667.50 200.40H698.70"/><path fill="none" stroke="#c6c6c6" stroke-width="0.9" d="M703.50 169.60V200.40M703.50 169.60H734.70M707.40 169.60V200.40M703.50 173.45H734.70M711.30 169.60V200.40M703.50 177.30H734.70M715.20 169.60V200.40M703.50 181.15H734.70M719.10 169.60V200.40M703.50 185.00H734.70M723.00 169.60V200.40M703.50 188.85H734.70M726.90 169.60V200.40M703.50 192.70H734.70M730.80 169.60V200.40M703.50 196.55H734.70M734.70 169.60V200.40M703.50 200.40H734.70"/><path fill="#b8000f" stroke="#f28088" stroke-width="0.9" d="M707.40 173.45h3.90v3.85h-3.90zM711.30 173.45h3.90v3.85h-3.90zM715.20 173.45h3.90v3.85h-3.90zM719.10 173.45h3.90v3.85h-3.90zM723.00 173.45h3.90v3.85h-3.90zM726.90 173.45h3.90v3.85h-3.90zM730.80 173.45h3.90v3.85h-3.90zM707.40 177.30h3.90v3.85h-3.90zM711.30 177.30h3.90v3.85h-3.90zM715.20 177.30h3.90v3.85h-3.90zM719.10 177.30h3.90v3.85h-3.90zM723.00 177.30h3.90v3.85h-3.90zM726.90 177.30h3.90v3.85h-3.90zM730.80 177.30h3.90v3.85h-3.90zM707.40 181.15h3.90v3.85h-3.90zM711.30 181.15h3.90v3.85h-3.90zM715.20 181.15h3.90v3.85h-3.90zM719.10 181.15h3.90v3.85h-3.90zM723.00 181.15h3.90v3.85h-3.90zM726.90 181.15h3.90v3.85h-3.90zM730.80 181.15h3.90v3.85h-3.90zM707.40 185.00h3.90v3.85h-3.90zM711.30 185.00h3.90v3.85h-3.90zM715.20 185.00h3.90v3.85h-3.90zM719.10 185.00h3.90v3.85h-3.90zM723.00 185.00h3.90v3.85h-3.90zM726.90 185.00h3.90v3.85h-3.90zM730.80 185.00h3.90v3.85h-3.90zM707.40 188.85h3.90v3.85h-3.90zM711.30 188.85h3.90v3.85h-3.90zM715.20 188.85h3.90v3.85h-3.90zM719.10 188.85h3.90v3.85h-3.90zM723.00 188.85h3.90v3.85h-3.90zM726.90 188.85h3.90v3.85h-3.90zM730.80 188.85h3.90v3.85h-3.90zM707.40 192.70h3.90v3.85h-3.90zM711.30 192.70h3.90v3.85h-3.90zM715.20 192.70h3.90v3.85h-3.90zM719.10 192.70h3.90v3.85h-3.90zM723.00 192.70h3.90v3.85h-3.90zM726.90 192.70h3.90v3.85h-3.90zM730.80 192.70h3.90v3.85h-3.90zM707.40 196.55h3.90v3.85h-3.90zM711.30 196.55h3.90v3.85h-3.90zM715.20 196.55h3.90v3.85h-3.90zM719.10 196.55h3.90v3.85h-3.90zM723.00 196.55h3.90v3.85h-3.90zM726.90 196.55h3.90v3.85h-3.90zM730.80 196.55h3.90v3.85h-3.90z"/><path fill="none" stroke="#c6c6c6" stroke-width="0.9" d="M739.50 169.60V200.40M739.50 169.60H770.70M743.40 169.60V200.40M739.50 173.45H770.70M747.30 169.60V200.40M739.50 177.30H770.70M751.20 169.60V200.40M739.50 181.15H770.70M755.10 169.60V200.40M739.50 185.00H770.70M759.00 169.60V200.40M739.50 188.85H770.70M762.90 169.60V200.40M739.50 192.70H770.70M766.80 169.60V200.40M739.50 196.55H770.70M770.70 169.60V200.40M739.50 200.40H770.70"/><path fill="#b8000f" stroke="#f28088" stroke-width="0.9" d="M743.40 173.45h3.90v3.85h-3.90zM747.30 173.45h3.90v3.85h-3.90zM751.20 173.45h3.90v3.85h-3.90zM755.10 173.45h3.90v3.85h-3.90zM759.00 173.45h3.90v3.85h-3.90zM762.90 173.45h3.90v3.85h-3.90zM766.80 173.45h3.90v3.85h-3.90zM743.40 177.30h3.90v3.85h-3.90zM747.30 177.30h3.90v3.85h-3.90zM751.20 177.30h3.90v3.85h-3.90zM755.10 177.30h3.90v3.85h-3.90zM759.00 177.30h3.90v3.85h-3.90zM762.90 177.30h3.90v3.85h-3.90zM766.80 177.30h3.90v3.85h-3.90zM743.40 181.15h3.90v3.85h-3.90zM747.30 181.15h3.90v3.85h-3.90zM751.20 181.15h3.90v3.85h-3.90zM755.10 181.15h3.90v3.85h-3.90zM759.00 181.15h3.90v3.85h-3.90zM762.90 181.15h3.90v3.85h-3.90zM766.80 181.15h3.90v3.85h-3.90zM743.40 185.00h3.90v3.85h-3.90zM747.30 185.00h3.90v3.85h-3.90zM751.20 185.00h3.90v3.85h-3.90zM755.10 185.00h3.90v3.85h-3.90zM759.00 185.00h3.90v3.85h-3.90zM762.90 185.00h3.90v3.85h-3.90zM766.80 185.00h3.90v3.85h-3.90zM743.40 188.85h3.90v3.85h-3.90zM747.30 188.85h3.90v3.85h-3.90zM751.20 188.85h3.90v3.85h-3.90zM755.10 188.85h3.90v3.85h-3.90zM759.00 188.85h3.90v3.85h-3.90zM762.90 188.85h3.90v3.85h-3.90zM766.80 188.85h3.90v3.85h-3.90zM743.40 192.70h3.90v3.85h-3.90zM747.30 192.70h3.90v3.85h-3.90zM751.20 192.70h3.90v3.85h-3.90zM755.10 192.70h3.90v3.85h-3.90zM759.00 192.70h3.90v3.85h-3.90zM762.90 192.70h3.90v3.85h-3.90zM766.80 192.70h3.90v3.85h-3.90zM743.40 196.55h3.90v3.85h-3.90zM747.30 196.55h3.90v3.85h-3.90zM751.20 196.55h3.90v3.85h-3.90zM755.10 196.55h3.90v3.85h-3.90zM759.00 196.55h3.90v3.85h-3.90zM762.90 196.55h3.90v3.85h-3.90zM766.80 196.55h3.90v3.85h-3.90z"/><path fill="none" stroke="#c6c6c6" stroke-width="0.9" d="M775.50 169.60V200.40M775.50 169.60H806.70M779.40 169.60V200.40M775.50 173.45H806.70M783.30 169.60V200.40M775.50 177.30H806.70M787.20 169.60V200.40M775.50 181.15H806.70M791.10 169.60V200.40M775.50 185.00H806.70M795.00 169.60V200.40M775.50 188.85H806.70M798.90 169.60V200.40M775.50 192.70H806.70M802.80 169.60V200.40M775.50 196.55H806.70M806.70 169.60V200.40M775.50 200.40H806.70"/><path fill="#b8000f" stroke="#f28088" stroke-width="0.9" d="M779.40 173.45h3.90v3.85h-3.90zM783.30 173.45h3.90v3.85h-3.90zM787.20 173.45h3.90v3.85h-3.90zM791.10 173.45h3.90v3.85h-3.90zM795.00 173.45h3.90v3.85h-3.90zM798.90 173.45h3.90v3.85h-3.90zM802.80 173.45h3.90v3.85h-3.90zM779.40 177.30h3.90v3.85h-3.90zM783.30 177.30h3.90v3.85h-3.90zM787.20 177.30h3.90v3.85h-3.90zM791.10 177.30h3.90v3.85h-3.90zM795.00 177.30h3.90v3.85h-3.90zM798.90 177.30h3.90v3.85h-3.90zM802.80 177.30h3.90v3.85h-3.90zM779.40 181.15h3.90v3.85h-3.90zM783.30 181.15h3.90v3.85h-3.90zM787.20 181.15h3.90v3.85h-3.90zM791.10 181.15h3.90v3.85h-3.90zM795.00 181.15h3.90v3.85h-3.90zM798.90 181.15h3.90v3.85h-3.90zM802.80 181.15h3.90v3.85h-3.90zM779.40 185.00h3.90v3.85h-3.90zM783.30 185.00h3.90v3.85h-3.90zM787.20 185.00h3.90v3.85h-3.90zM791.10 185.00h3.90v3.85h-3.90zM795.00 185.00h3.90v3.85h-3.90zM798.90 185.00h3.90v3.85h-3.90zM802.80 185.00h3.90v3.85h-3.90zM779.40 188.85h3.90v3.85h-3.90zM783.30 188.85h3.90v3.85h-3.90zM787.20 188.85h3.90v3.85h-3.90zM791.10 188.85h3.90v3.85h-3.90zM795.00 188.85h3.90v3.85h-3.90zM798.90 188.85h3.90v3.85h-3.90zM802.80 188.85h3.90v3.85h-3.90zM779.40 192.70h3.90v3.85h-3.90zM783.30 192.70h3.90v3.85h-3.90zM787.20 192.70h3.90v3.85h-3.90zM791.10 192.70h3.90v3.85h-3.90zM795.00 192.70h3.90v3.85h-3.90zM798.90 192.70h3.90v3.85h-3.90zM802.80 192.70h3.90v3.85h-3.90zM779.40 196.55h3.90v3.85h-3.90zM783.30 196.55h3.90v3.85h-3.90zM787.20 196.55h3.90v3.85h-3.90zM791.10 196.55h3.90v3.85h-3.90zM795.00 196.55h3.90v3.85h-3.90zM798.90 196.55h3.90v3.85h-3.90zM802.80 196.55h3.90v3.85h-3.90z"/><path fill="none" stroke="#c6c6c6" stroke-width="0.9" d="M811.50 169.60V200.40M811.50 169.60H842.70M815.40 169.60V200.40M811.50 173.45H842.70M819.30 169.60V200.40M811.50 177.30H842.70M823.20 169.60V200.40M811.50 181.15H842.70M827.10 169.60V200.40M811.50 185.00H842.70M831.00 169.60V200.40M811.50 188.85H842.70M834.90 169.60V200.40M811.50 192.70H842.70M838.80 169.60V200.40M811.50 196.55H842.70M842.70 169.60V200.40M811.50 200.40H842.70"/><path fill="#b8000f" stroke="#f28088" stroke-width="0.9" d="M815.40 173.45h3.90v3.85h-3.90zM819.30 173.45h3.90v3.85h-3.90zM823.20 173.45h3.90v3.85h-3.90zM827.10 173.45h3.90v3.85h-3.90zM831.00 173.45h3.90v3.85h-3.90zM834.90 173.45h3.90v3.85h-3.90zM838.80 173.45h3.90v3.85h-3.90zM815.40 177.30h3.90v3.85h-3.90zM819.30 177.30h3.90v3.85h-3.90zM823.20 177.30h3.90v3.85h-3.90zM827.10 177.30h3.90v3.85h-3.90zM831.00 177.30h3.90v3.85h-3.90zM834.90 177.30h3.90v3.85h-3.90zM838.80 177.30h3.90v3.85h-3.90zM815.40 181.15h3.90v3.85h-3.90zM819.30 181.15h3.90v3.85h-3.90zM823.20 181.15h3.90v3.85h-3.90zM827.10 181.15h3.90v3.85h-3.90zM831.00 181.15h3.90v3.85h-3.90zM834.90 181.15h3.90v3.85h-3.90zM838.80 181.15h3.90v3.85h-3.90zM815.40 185.00h3.90v3.85h-3.90zM819.30 185.00h3.90v3.85h-3.90zM823.20 185.00h3.90v3.85h-3.90zM827.10 185.00h3.90v3.85h-3.90zM831.00 185.00h3.90v3.85h-3.90zM834.90 185.00h3.90v3.85h-3.90zM838.80 185.00h3.90v3.85h-3.90zM815.40 188.85h3.90v3.85h-3.90zM819.30 188.85h3.90v3.85h-3.90zM823.20 188.85h3.90v3.85h-3.90zM827.10 188.85h3.90v3.85h-3.90zM831.00 188.85h3.90v3.85h-3.90zM834.90 188.85h3.90v3.85h-3.90zM838.80 188.85h3.90v3.85h-3.90zM815.40 192.70h3.90v3.85h-3.90zM819.30 192.70h3.90v3.85h-3.90zM823.20 192.70h3.90v3.85h-3.90zM827.10 192.70h3.90v3.85h-3.90zM831.00 192.70h3.90v3.85h-3.90zM834.90 192.70h3.90v3.85h-3.90zM838.80 192.70h3.90v3.85h-3.90zM815.40 196.55h3.90v3.85h-3.90zM819.30 196.55h3.90v3.85h-3.90zM823.20 196.55h3.90v3.85h-3.90zM827.10 196.55h3.90v3.85h-3.90zM831.00 196.55h3.90v3.85h-3.90zM834.90 196.55h3.90v3.85h-3.90zM838.80 196.55h3.90v3.85h-3.90z"/><path fill="none" stroke="#c6c6c6" stroke-width="0.9" d="M847.50 169.60V200.40M847.50 169.60H878.70M851.40 169.60V200.40M847.50 173.45H878.70M855.30 169.60V200.40M847.50 177.30H878.70M859.20 169.60V200.40M847.50 181.15H878.70M863.10 169.60V200.40M847.50 185.00H878.70M867.00 169.60V200.40M847.50 188.85H878.70M870.90 169.60V200.40M847.50 192.70H878.70M874.80 169.60V200.40M847.50 196.55H878.70M878.70 169.60V200.40M847.50 200.40H878.70"/><path fill="#b8000f" stroke="#f28088" stroke-width="0.9" d="M851.40 173.45h3.90v3.85h-3.90zM855.30 173.45h3.90v3.85h-3.90zM859.20 173.45h3.90v3.85h-3.90zM863.10 173.45h3.90v3.85h-3.90zM867.00 173.45h3.90v3.85h-3.90zM870.90 173.45h3.90v3.85h-3.90zM874.80 173.45h3.90v3.85h-3.90zM851.40 177.30h3.90v3.85h-3.90zM855.30 177.30h3.90v3.85h-3.90zM859.20 177.30h3.90v3.85h-3.90zM863.10 177.30h3.90v3.85h-3.90zM867.00 177.30h3.90v3.85h-3.90zM870.90 177.30h3.90v3.85h-3.90zM874.80 177.30h3.90v3.85h-3.90zM851.40 181.15h3.90v3.85h-3.90zM855.30 181.15h3.90v3.85h-3.90zM859.20 181.15h3.90v3.85h-3.90zM863.10 181.15h3.90v3.85h-3.90zM867.00 181.15h3.90v3.85h-3.90zM870.90 181.15h3.90v3.85h-3.90zM874.80 181.15h3.90v3.85h-3.90zM851.40 185.00h3.90v3.85h-3.90zM855.30 185.00h3.90v3.85h-3.90zM859.20 185.00h3.90v3.85h-3.90zM863.10 185.00h3.90v3.85h-3.90zM867.00 185.00h3.90v3.85h-3.90zM870.90 185.00h3.90v3.85h-3.90zM874.80 185.00h3.90v3.85h-3.90zM851.40 188.85h3.90v3.85h-3.90zM855.30 188.85h3.90v3.85h-3.90zM859.20 188.85h3.90v3.85h-3.90zM863.10 188.85h3.90v3.85h-3.90zM867.00 188.85h3.90v3.85h-3.90zM870.90 188.85h3.90v3.85h-3.90zM874.80 188.85h3.90v3.85h-3.90zM851.40 192.70h3.90v3.85h-3.90zM855.30 192.70h3.90v3.85h-3.90zM859.20 192.70h3.90v3.85h-3.90zM863.10 192.70h3.90v3.85h-3.90zM867.00 192.70h3.90v3.85h-3.90zM870.90 192.70h3.90v3.85h-3.90zM874.80 192.70h3.90v3.85h-3.90zM851.40 196.55h3.90v3.85h-3.90zM855.30 196.55h3.90v3.85h-3.90zM859.20 196.55h3.90v3.85h-3.90zM863.10 196.55h3.90v3.85h-3.90zM867.00 196.55h3.90v3.85h-3.90zM870.90 196.55h3.90v3.85h-3.90zM874.80 196.55h3.90v3.85h-3.90z"/><path fill="none" stroke="#c6c6c6" stroke-width="0.9" d="M883.50 169.60V200.40M883.50 169.60H914.70M887.40 169.60V200.40M883.50 173.45H914.70M891.30 169.60V200.40M883.50 177.30H914.70M895.20 169.60V200.40M883.50 181.15H914.70M899.10 169.60V200.40M883.50 185.00H914.70M903.00 169.60V200.40M883.50 188.85H914.70M906.90 169.60V200.40M883.50 192.70H914.70M910.80 169.60V200.40M883.50 196.55H914.70M914.70 169.60V200.40M883.50 200.40H914.70"/><path fill="#b8000f" stroke="#f28088" stroke-width="0.9" d="M887.40 173.45h3.90v3.85h-3.90zM891.30 173.45h3.90v3.85h-3.90zM895.20 173.45h3.90v3.85h-3.90zM899.10 173.45h3.90v3.85h-3.90zM903.00 173.45h3.90v3.85h-3.90zM906.90 173.45h3.90v3.85h-3.90zM910.80 173.45h3.90v3.85h-3.90zM887.40 177.30h3.90v3.85h-3.90zM891.30 177.30h3.90v3.85h-3.90zM895.20 177.30h3.90v3.85h-3.90zM899.10 177.30h3.90v3.85h-3.90zM903.00 177.30h3.90v3.85h-3.90zM906.90 177.30h3.90v3.85h-3.90zM910.80 177.30h3.90v3.85h-3.90zM887.40 181.15h3.90v3.85h-3.90zM891.30 181.15h3.90v3.85h-3.90zM895.20 181.15h3.90v3.85h-3.90zM899.10 181.15h3.90v3.85h-3.90zM903.00 181.15h3.90v3.85h-3.90zM906.90 181.15h3.90v3.85h-3.90zM910.80 181.15h3.90v3.85h-3.90zM887.40 185.00h3.90v3.85h-3.90zM891.30 185.00h3.90v3.85h-3.90zM895.20 185.00h3.90v3.85h-3.90zM899.10 185.00h3.90v3.85h-3.90zM903.00 185.00h3.90v3.85h-3.90zM906.90 185.00h3.90v3.85h-3.90zM910.80 185.00h3.90v3.85h-3.90zM887.40 188.85h3.90v3.85h-3.90zM891.30 188.85h3.90v3.85h-3.90zM895.20 188.85h3.90v3.85h-3.90zM899.10 188.85h3.90v3.85h-3.90zM903.00 188.85h3.90v3.85h-3.90zM906.90 188.85h3.90v3.85h-3.90zM910.80 188.85h3.90v3.85h-3.90zM887.40 192.70h3.90v3.85h-3.90zM891.30 192.70h3.90v3.85h-3.90zM895.20 192.70h3.90v3.85h-3.90zM899.10 192.70h3.90v3.85h-3.90zM903.00 192.70h3.90v3.85h-3.90zM906.90 192.70h3.90v3.85h-3.90zM910.80 192.70h3.90v3.85h-3.90zM887.40 196.55h3.90v3.85h-3.90zM891.30 196.55h3.90v3.85h-3.90zM895.20 196.55h3.90v3.85h-3.90zM899.10 196.55h3.90v3.85h-3.90zM903.00 196.55h3.90v3.85h-3.90zM906.90 196.55h3.90v3.85h-3.90zM910.80 196.55h3.90v3.85h-3.90z"/><path fill="none" stroke="#c6c6c6" stroke-width="0.9" d="M919.50 169.60V200.40M919.50 169.60H950.70M923.40 169.60V200.40M919.50 173.45H950.70M927.30 169.60V200.40M919.50 177.30H950.70M931.20 169.60V200.40M919.50 181.15H950.70M935.10 169.60V200.40M919.50 185.00H950.70M939.00 169.60V200.40M919.50 188.85H950.70M942.90 169.60V200.40M919.50 192.70H950.70M946.80 169.60V200.40M919.50 196.55H950.70M950.70 169.60V200.40M919.50 200.40H950.70"/><path fill="#b8000f" stroke="#f28088" stroke-width="0.9" d="M923.40 173.45h3.90v3.85h-3.90zM927.30 173.45h3.90v3.85h-3.90zM931.20 173.45h3.90v3.85h-3.90zM935.10 173.45h3.90v3.85h-3.90zM939.00 173.45h3.90v3.85h-3.90zM942.90 173.45h3.90v3.85h-3.90zM946.80 173.45h3.90v3.85h-3.90zM923.40 177.30h3.90v3.85h-3.90zM927.30 177.30h3.90v3.85h-3.90zM931.20 177.30h3.90v3.85h-3.90zM935.10 177.30h3.90v3.85h-3.90zM939.00 177.30h3.90v3.85h-3.90zM942.90 177.30h3.90v3.85h-3.90zM946.80 177.30h3.90v3.85h-3.90zM923.40 181.15h3.90v3.85h-3.90zM927.30 181.15h3.90v3.85h-3.90zM931.20 181.15h3.90v3.85h-3.90zM935.10 181.15h3.90v3.85h-3.90zM939.00 181.15h3.90v3.85h-3.90zM942.90 181.15h3.90v3.85h-3.90zM946.80 181.15h3.90v3.85h-3.90zM923.40 185.00h3.90v3.85h-3.90zM927.30 185.00h3.90v3.85h-3.90zM931.20 185.00h3.90v3.85h-3.90zM935.10 185.00h3.90v3.85h-3.90zM939.00 185.00h3.90v3.85h-3.90zM942.90 185.00h3.90v3.85h-3.90zM946.80 185.00h3.90v3.85h-3.90zM923.40 188.85h3.90v3.85h-3.90zM927.30 188.85h3.90v3.85h-3.90zM931.20 188.85h3.90v3.85h-3.90zM935.10 188.85h3.90v3.85h-3.90zM939.00 188.85h3.90v3.85h-3.90zM942.90 188.85h3.90v3.85h-3.90zM946.80 188.85h3.90v3.85h-3.90zM923.40 192.70h3.90v3.85h-3.90zM927.30 192.70h3.90v3.85h-3.90zM931.20 192.70h3.90v3.85h-3.90zM935.10 192.70h3.90v3.85h-3.90zM939.00 192.70h3.90v3.85h-3.90zM942.90 192.70h3.90v3.85h-3.90zM946.80 192.70h3.90v3.85h-3.90zM923.40 196.55h3.90v3.85h-3.90zM927.30 196.55h3.90v3.85h-3.90zM931.20 196.55h3.90v3.85h-3.90zM935.10 196.55h3.90v3.85h-3.90zM939.00 196.55h3.90v3.85h-3.90zM942.90 196.55h3.90v3.85h-3.90zM946.80 196.55h3.90v3.85h-3.90z"/><rect x="26.40" y="308.00" width="292.90" height="40.20" fill="#fff" stroke="#404040" stroke-width="1.4"/><path fill="none" stroke="#c6c6c6" stroke-width="0.9" d="M31.40 313.00V343.80M31.40 313.00H62.60M35.30 313.00V343.80M31.40 316.85H62.60M39.20 313.00V343.80M31.40 320.70H62.60M43.10 313.00V343.80M31.40 324.55H62.60M47.00 313.00V343.80M31.40 328.40H62.60M50.90 313.00V343.80M31.40 332.25H62.60M54.80 313.00V343.80M31.40 336.10H62.60M58.70 313.00V343.80M31.40 339.95H62.60M62.60 313.00V343.80M31.40 343.80H62.60"/><path fill="#b8000f" stroke="#f28088" stroke-width="0.9" d="M58.70 313.00h3.90v3.85h-3.90zM58.70 316.85h3.90v3.85h-3.90zM58.70 320.70h3.90v3.85h-3.90zM58.70 324.55h3.90v3.85h-3.90zM58.70 328.40h3.90v3.85h-3.90zM58.70 332.25h3.90v3.85h-3.90zM58.70 336.10h3.90v3.85h-3.90zM31.40 339.95h3.90v3.85h-3.90zM35.30 339.95h3.90v3.85h-3.90zM39.20 339.95h3.90v3.85h-3.90zM43.10 339.95h3.90v3.85h-3.90zM47.00 339.95h3.90v3.85h-3.90zM50.90 339.95h3.90v3.85h-3.90zM54.80 339.95h3.90v3.85h-3.90zM58.70 339.95h3.90v3.85h-3.90z"/><path fill="none" stroke="#c6c6c6" stroke-width="0.9" d="M67.40 313.00V343.80M67.40 313.00H98.60M71.30 313.00V343.80M67.40 316.85H98.60M75.20 313.00V343.80M67.40 320.70H98.60M79.10 313.00V343.80M67.40 324.55H98.60M83.00 313.00V343.80M67.40 328.40H98.60M86.90 313.00V343.80M67.40 332.25H98.60M90.80 313.00V343.80M67.40 336.10H98.60M94.70 313.00V343.80M67.40 339.95H98.60M98.60 313.00V343.80M67.40 343.80H98.60"/><path fill="#b8000f" stroke="#f28088" stroke-width="0.9" d="M94.70 313.00h3.90v3.85h-3.90zM94.70 316.85h3.90v3.85h-3.90zM94.70 320.70h3.90v3.85h-3.90zM94.70 324.55h3.90v3.85h-3.90zM94.70 328.40h3.90v3.85h-3.90zM94.70 332.25h3.90v3.85h-3.90zM94.70 336.10h3.90v3.85h-3.90zM67.40 339.95h3.90v3.85h-3.90zM71.30 339.95h3.90v3.85h-3.90zM75.20 339.95h3.90v3.85h-3.90zM79.10 339.95h3.90v3.85h-3.90zM83.00 339.95h3.90v3.85h-3.90zM86.90 339.95h3.90v3.85h-3.90zM90.80 339.95h3.90v3.85h-3.90zM94.70 339.95h3.90v3.85h-3.90z"/><path fill="none" stroke="#c6c6c6" stroke-width="0.9" d="M103.40 313.00V343.80M103.40 313.00H134.60M107.30 313.00V343.80M103.40 316.85H134.60M111.20 313.00V343.80M103.40 320.70H134.60M115.10 313.00V343.80M103.40 324.55H134.60M119.00 313.00V343.80M103.40 328.40H134.60M122.90 313.00V343.80M103.40 332.25H134.60M126.80 313.00V343.80M103.40 336.10H134.60M130.70 313.00V343.80M103.40 339.95H134.60M134.60 313.00V343.80M103.40 343.80H134.60"/><path fill="#b8000f" stroke="#f28088" stroke-width="0.9" d="M130.70 313.00h3.90v3.85h-3.90zM130.70 316.85h3.90v3.85h-3.90zM130.70 320.70h3.90v3.85h-3.90zM130.70 324.55h3.90v3.85h-3.90zM130.70 328.40h3.90v3.85h-3.90zM130.70 332.25h3.90v3.85h-3.90zM130.70 336.10h3.90v3.85h-3.90zM103.40 339.95h3.90v3.85h-3.90zM107.30 339.95h3.90v3.85h-3.90zM111.20 339.95h3.90v3.85h-3.90zM115.10 339.95h3.90v3.85h-3.90zM119.00 339.95h3.90v3.85h-3.90zM122.90 339.95h3.90v3.85h-3.90zM126.80 339.95h3.90v3.85h-3.90zM130.70 339.95h3.90v3.85h-3.90z"/><path fill="none" stroke="#c6c6c6" stroke-width="0.9" d="M139.40 313.00V343.80M139.40 313.00H170.60M143.30 313.00V343.80M139.40 316.85H170.60M147.20 313.00V343.80M139.40 320.70H170.60M151.10 313.00V343.80M139.40 324.55H170.60M155.00 313.00V343.80M139.40 328.40H170.60M158.90 313.00V343.80M139.40 332.25H170.60M162.80 313.00V343.80M139.40 336.10H170.60M166.70 313.00V343.80M139.40 339.95H170.60M170.60 313.00V343.80M139.40 343.80H170.60"/><path fill="#b8000f" stroke="#f28088" stroke-width="0.9" d="M166.70 313.00h3.90v3.85h-3.90zM166.70 316.85h3.90v3.85h-3.90zM166.70 320.70h3.90v3.85h-3.90zM166.70 324.55h3.90v3.85h-3.90zM166.70 328.40h3.90v3.85h-3.90zM166.70 332.25h3.90v3.85h-3.90zM166.70 336.10h3.90v3.85h-3.90zM139.40 339.95h3.90v3.85h-3.90zM143.30 339.95h3.90v3.85h-3.90zM147.20 339.95h3.90v3.85h-3.90zM151.10 339.95h3.90v3.85h-3.90zM155.00 339.95h3.90v3.85h-3.90zM158.90 339.95h3.90v3.85h-3.90zM162.80 339.95h3.90v3.85h-3.90zM166.70 339.95h3.90v3.85h-3.90z"/><path fill="none" stroke="#c6c6c6" stroke-width="0.9" d="M175.40 313.00V343.80M175.40 313.00H206.60M179.30 313.00V343.80M175.40 316.85H206.60M183.20 313.00V343.80M175.40 320.70H206.60M187.10 313.00V343.80M175.40 324.55H206.60M191.00 313.00V343.80M175.40 328.40H206.60M194.90 313.00V343.80M175.40 332.25H206.60M198.80 313.00V343.80M175.40 336.10H206.60M202.70 313.00V343.80M175.40 339.95H206.60M206.60 313.00V343.80M175.40 343.80H206.60"/><path fill="#b8000f" stroke="#f28088" stroke-width="0.9" d="M202.70 313.00h3.90v3.85h-3.90zM202.70 316.85h3.90v3.85h-3.90zM202.70 320.70h3.90v3.85h-3.90zM202.70 324.55h3.90v3.85h-3.90zM202.70 328.40h3.90v3.85h-3.90zM202.70 332.25h3.90v3.85h-3.90zM202.70 336.10h3.90v3.85h-3.90zM175.40 339.95h3.90v3.85h-3.90zM179.30 339.95h3.90v3.85h-3.90zM183.20 339.95h3.90v3.85h-3.90zM187.10 339.95h3.90v3.85h-3.90zM191.00 339.95h3.90v3.85h-3.90zM194.90 339.95h3.90v3.85h-3.90zM198.80 339.95h3.90v3.85h-3.90zM202.70 339.95h3.90v3.85h-3.90z"/><path fill="none" stroke="#c6c6c6" stroke-width="0.9" d="M211.40 313.00V343.80M211.40 313.00H242.60M215.30 313.00V343.80M211.40 316.85H242.60M219.20 313.00V343.80M211.40 320.70H242.60M223.10 313.00V343.80M211.40 324.55H242.60M227.00 313.00V343.80M211.40 328.40H242.60M230.90 313.00V343.80M211.40 332.25H242.60M234.80 313.00V343.80M211.40 336.10H242.60M238.70 313.00V343.80M211.40 339.95H242.60M242.60 313.00V343.80M211.40 343.80H242.60"/><path fill="#b8000f" stroke="#f28088" stroke-width="0.9" d="M238.70 313.00h3.90v3.85h-3.90zM238.70 316.85h3.90v3.85h-3.90zM238.70 320.70h3.90v3.85h-3.90zM238.70 324.55h3.90v3.85h-3.90zM238.70 328.40h3.90v3.85h-3.90zM238.70 332.25h3.90v3.85h-3.90zM238.70 336.10h3.90v3.85h-3.90zM211.40 339.95h3.90v3.85h-3.90zM215.30 339.95h3.90v3.85h-3.90zM219.20 339.95h3.90v3.85h-3.90zM223.10 339.95h3.90v3.85h-3.90zM227.00 339.95h3.90v3.85h-3.90zM230.90 339.95h3.90v3.85h-3.90zM234.80 339.95h3.90v3.85h-3.90zM238.70 339.95h3.90v3.85h-3.90z"/><path fill="none" stroke="#c6c6c6" stroke-width="0.9" d="M247.40 313.00V343.80M247.40 313.00H278.60M251.30 313.00V343.80M247.40 316.85H278.60M255.20 313.00V343.80M247.40 320.70H278.60M259.10 313.00V343.80M247.40 324.55H278.60M263.00 313.00V343.80M247.40 328.40H278.60M266.90 313.00V343.80M247.40 332.25H278.60M270.80 313.00V343.80M247.40 336.10H278.60M274.70 313.00V343.80M247.40 339.95H278.60M278.60 313.00V343.80M247.40 343.80H278.60"/><path fill="#b8000f" stroke="#f28088" stroke-width="0.9" d="M274.70 313.00h3.90v3.85h-3.90zM274.70 316.85h3.90v3.85h-3.90zM274.70 320.70h3.90v3.85h-3.90zM274.70 324.55h3.90v3.85h-3.90zM274.70 328.40h3.90v3.85h-3.90zM274.70 332.25h3.90v3.85h-3.90zM274.70 336.10h3.90v3.85h-3.90zM247.40 339.95h3.90v3.85h-3.90zM251.30 339.95h3.90v3.85h-3.90zM255.20 339.95h3.90v3.85h-3.90zM259.10 339.95h3.90v3.85h-3.90zM263.00 339.95h3.90v3.85h-3.90zM266.90 339.95h3.90v3.85h-3.90zM270.80 339.95h3.90v3.85h-3.90zM274.70 339.95h3.90v3.85h-3.90z"/><path fill="none" stroke="#c6c6c6" stroke-width="0.9" d="M283.40 313.00V343.80M283.40 313.00H314.60M287.30 313.00V343.80M283.40 316.85H314.60M291.20 313.00V343.80M283.40 320.70H314.60M295.10 313.00V343.80M283.40 324.55H314.60M299.00 313.00V343.80M283.40 328.40H314.60M302.90 313.00V343.80M283.40 332.25H314.60M306.80 313.00V343.80M283.40 336.10H314.60M310.70 313.00V343.80M283.40 339.95H314.60M314.60 313.00V343.80M283.40 343.80H314.60"/><path fill="#b8000f" stroke="#f28088" stroke-width="0.9" d="M283.40 313.00h3.90v3.85h-3.90zM287.30 313.00h3.90v3.85h-3.90zM291.20 313.00h3.90v3.85h-3.90zM295.10 313.00h3.90v3.85h-3.90zM299.00 313.00h3.90v3.85h-3.90zM302.90 313.00h3.90v3.85h-3.90zM306.80 313.00h3.90v3.85h-3.90zM310.70 313.00h3.90v3.85h-3.90zM283.40 316.85h3.90v3.85h-3.90zM287.30 316.85h3.90v3.85h-3.90zM291.20 316.85h3.90v3.85h-3.90zM295.10 316.85h3.90v3.85h-3.90zM299.00 316.85h3.90v3.85h-3.90zM302.90 316.85h3.90v3.85h-3.90zM306.80 316.85h3.90v3.85h-3.90zM310.70 316.85h3.90v3.85h-3.90zM283.40 320.70h3.90v3.85h-3.90zM287.30 320.70h3.90v3.85h-3.90zM291.20 320.70h3.90v3.85h-3.90zM295.10 320.70h3.90v3.85h-3.90zM299.00 320.70h3.90v3.85h-3.90zM302.90 320.70h3.90v3.85h-3.90zM306.80 320.70h3.90v3.85h-3.90zM310.70 320.70h3.90v3.85h-3.90zM283.40 324.55h3.90v3.85h-3.90zM287.30 324.55h3.90v3.85h-3.90zM291.20 324.55h3.90v3.85h-3.90zM295.10 324.55h3.90v3.85h-3.90zM299.00 324.55h3.90v3.85h-3.90zM302.90 324.55h3.90v3.85h-3.90zM306.80 324.55h3.90v3.85h-3.90zM310.70 324.55h3.90v3.85h-3.90zM283.40 328.40h3.90v3.85h-3.90zM287.30 328.40h3.90v3.85h-3.90zM291.20 328.40h3.90v3.85h-3.90zM295.10 328.40h3.90v3.85h-3.90zM299.00 328.40h3.90v3.85h-3.90zM302.90 328.40h3.90v3.85h-3.90zM306.80 328.40h3.90v3.85h-3.90zM310.70 328.40h3.90v3.85h-3.90zM283.40 332.25h3.90v3.85h-3.90zM287.30 332.25h3.90v3.85h-3.90zM291.20 332.25h3.90v3.85h-3.90zM295.10 332.25h3.90v3.85h-3.90zM299.00 332.25h3.90v3.85h-3.90zM302.90 332.25h3.90v3.85h-3.90zM306.80 332.25h3.90v3.85h-3.90zM310.70 332.25h3.90v3.85h-3.90zM283.40 336.10h3.90v3.85h-3.90zM287.30 336.10h3.90v3.85h-3.90zM291.20 336.10h3.90v3.85h-3.90zM295.10 336.10h3.90v3.85h-3.90zM299.00 336.10h3.90v3.85h-3.90zM302.90 336.10h3.90v3.85h-3.90zM306.80 336.10h3.90v3.85h-3.90zM310.70 336.10h3.90v3.85h-3.90zM283.40 339.95h3.90v3.85h-3.90zM287.30 339.95h3.90v3.85h-3.90zM291.20 339.95h3.90v3.85h-3.90zM295.10 339.95h3.90v3.85h-3.90zM299.00 339.95h3.90v3.85h-3.90zM302.90 339.95h3.90v3.85h-3.90zM306.80 339.95h3.90v3.85h-3.90zM310.70 339.95h3.90v3.85h-3.90z"/><rect x="343.50" y="308.00" width="292.30" height="40.20" fill="#fff" stroke="#404040" stroke-width="1.4"/><path fill="none" stroke="#c6c6c6" stroke-width="0.9" d="M348.50 313.00V343.80M348.50 313.00H379.70M352.40 313.00V343.80M348.50 316.85H379.70M356.30 313.00V343.80M348.50 320.70H379.70M360.20 313.00V343.80M348.50 324.55H379.70M364.10 313.00V343.80M348.50 328.40H379.70M368.00 313.00V343.80M348.50 332.25H379.70M371.90 313.00V343.80M348.50 336.10H379.70M375.80 313.00V343.80M348.50 339.95H379.70M379.70 313.00V343.80M348.50 343.80H379.70"/><path fill="none" stroke="#c6c6c6" stroke-width="0.9" d="M384.50 313.00V343.80M384.50 313.00H415.70M388.40 313.00V343.80M384.50 316.85H415.70M392.30 313.00V343.80M384.50 320.70H415.70M396.20 313.00V343.80M384.50 324.55H415.70M400.10 313.00V343.80M384.50 328.40H415.70M404.00 313.00V343.80M384.50 332.25H415.70M407.90 313.00V343.80M384.50 336.10H415.70M411.80 313.00V343.80M384.50 339.95H415.70M415.70 313.00V343.80M384.50 343.80H415.70"/><path fill="none" stroke="#c6c6c6" stroke-width="0.9" d="M420.50 313.00V343.80M420.50 313.00H451.70M424.40 313.00V343.80M420.50 316.85H451.70M428.30 313.00V343.80M420.50 320.70H451.70M432.20 313.00V343.80M420.50 324.55H451.70M436.10 313.00V343.80M420.50 328.40H451.70M440.00 313.00V343.80M420.50 332.25H451.70M443.90 313.00V343.80M420.50 336.10H451.70M447.80 313.00V343.80M420.50 339.95H451.70M451.70 313.00V343.80M420.50 343.80H451.70"/><path fill="#b8000f" stroke="#f28088" stroke-width="0.9" d="M424.40 328.40h3.90v3.85h-3.90zM432.20 328.40h3.90v3.85h-3.90zM440.00 328.40h3.90v3.85h-3.90zM447.80 328.40h3.90v3.85h-3.90zM424.40 332.25h3.90v3.85h-3.90zM432.20 332.25h3.90v3.85h-3.90zM440.00 332.25h3.90v3.85h-3.90zM447.80 332.25h3.90v3.85h-3.90zM424.40 336.10h3.90v3.85h-3.90zM432.20 336.10h3.90v3.85h-3.90zM440.00 336.10h3.90v3.85h-3.90zM447.80 336.10h3.90v3.85h-3.90zM424.40 339.95h3.90v3.85h-3.90zM432.20 339.95h3.90v3.85h-3.90zM440.00 339.95h3.90v3.85h-3.90zM447.80 339.95h3.90v3.85h-3.90z"/><path fill="none" stroke="#c6c6c6" stroke-width="0.9" d="M456.50 313.00V343.80M456.50 313.00H487.70M460.40 313.00V343.80M456.50 316.85H487.70M464.30 313.00V343.80M456.50 320.70H487.70M468.20 313.00V343.80M456.50 324.55H487.70M472.10 313.00V343.80M456.50 328.40H487.70M476.00 313.00V343.80M456.50 332.25H487.70M479.90 313.00V343.80M456.50 336.10H487.70M483.80 313.00V343.80M456.50 339.95H487.70M487.70 313.00V343.80M456.50 343.80H487.70"/><path fill="#b8000f" stroke="#f28088" stroke-width="0.9" d="M460.40 328.40h3.90v3.85h-3.90zM468.20 328.40h3.90v3.85h-3.90zM476.00 328.40h3.90v3.85h-3.90zM483.80 328.40h3.90v3.85h-3.90zM460.40 332.25h3.90v3.85h-3.90zM468.20 332.25h3.90v3.85h-3.90zM476.00 332.25h3.90v3.85h-3.90zM483.80 332.25h3.90v3.85h-3.90zM460.40 336.10h3.90v3.85h-3.90zM468.20 336.10h3.90v3.85h-3.90zM476.00 336.10h3.90v3.85h-3.90zM483.80 336.10h3.90v3.85h-3.90zM460.40 339.95h3.90v3.85h-3.90zM468.20 339.95h3.90v3.85h-3.90zM476.00 339.95h3.90v3.85h-3.90zM483.80 339.95h3.90v3.85h-3.90z"/><path fill="none" stroke="#c6c6c6" stroke-width="0.9" d="M492.50 313.00V343.80M492.50 313.00H523.70M496.40 313.00V343.80M492.50 316.85H523.70M500.30 313.00V343.80M492.50 320.70H523.70M504.20 313.00V343.80M492.50 324.55H523.70M508.10 313.00V343.80M492.50 328.40H523.70M512.00 313.00V343.80M492.50 332.25H523.70M515.90 313.00V343.80M492.50 336.10H523.70M519.80 313.00V343.80M492.50 339.95H523.70M523.70 313.00V343.80M492.50 343.80H523.70"/><path fill="none" stroke="#c6c6c6" stroke-width="0.9" d="M528.50 313.00V343.80M528.50 313.00H559.70M532.40 313.00V343.80M528.50 316.85H559.70M536.30 313.00V343.80M528.50 320.70H559.70M540.20 313.00V343.80M528.50 324.55H559.70M544.10 313.00V343.80M528.50 328.40H559.70M548.00 313.00V343.80M528.50 332.25H559.70M551.90 313.00V343.80M528.50 336.10H559.70M555.80 313.00V343.80M528.50 339.95H559.70M559.70 313.00V343.80M528.50 343.80H559.70"/><path fill="none" stroke="#c6c6c6" stroke-width="0.9" d="M564.50 313.00V343.80M564.50 313.00H595.70M568.40 313.00V343.80M564.50 316.85H595.70M572.30 313.00V343.80M564.50 320.70H595.70M576.20 313.00V343.80M564.50 324.55H595.70M580.10 313.00V343.80M564.50 328.40H595.70M584.00 313.00V343.80M564.50 332.25H595.70M587.90 313.00V343.80M564.50 336.10H595.70M591.80 313.00V343.80M564.50 339.95H595.70M595.70 313.00V343.80M564.50 343.80H595.70"/><path fill="#b8000f" stroke="#f28088" stroke-width="0.9" d="M568.40 328.40h3.90v3.85h-3.90zM576.20 328.40h3.90v3.85h-3.90zM584.00 328.40h3.90v3.85h-3.90zM591.80 328.40h3.90v3.85h-3.90zM568.40 332.25h3.90v3.85h-3.90zM576.20 332.25h3.90v3.85h-3.90zM584.00 332.25h3.90v3.85h-3.90zM591.80 332.25h3.90v3.85h-3.90zM568.40 336.10h3.90v3.85h-3.90zM576.20 336.10h3.90v3.85h-3.90zM584.00 336.10h3.90v3.85h-3.90zM591.80 336.10h3.90v3.85h-3.90zM568.40 339.95h3.90v3.85h-3.90zM576.20 339.95h3.90v3.85h-3.90zM584.00 339.95h3.90v3.85h-3.90zM591.80 339.95h3.90v3.85h-3.90z"/><path fill="none" stroke="#c6c6c6" stroke-width="0.9" d="M600.50 313.00V343.80M600.50 313.00H631.70M604.40 313.00V343.80M600.50 316.85H631.70M608.30 313.00V343.80M600.50 320.70H631.70M612.20 313.00V343.80M600.50 324.55H631.70M616.10 313.00V343.80M600.50 328.40H631.70M620.00 313.00V343.80M600.50 332.25H631.70M623.90 313.00V343.80M600.50 336.10H631.70M627.80 313.00V343.80M600.50 339.95H631.70M631.70 313.00V343.80M600.50 343.80H631.70"/><path fill="#b8000f" stroke="#f28088" stroke-width="0.9" d="M604.40 328.40h3.90v3.85h-3.90zM612.20 328.40h3.90v3.85h-3.90zM620.00 328.40h3.90v3.85h-3.90zM627.80 328.40h3.90v3.85h-3.90zM604.40 332.25h3.90v3.85h-3.90zM612.20 332.25h3.90v3.85h-3.90zM620.00 332.25h3.90v3.85h-3.90zM627.80 332.25h3.90v3.85h-3.90zM604.40 336.10h3.90v3.85h-3.90zM612.20 336.10h3.90v3.85h-3.90zM620.00 336.10h3.90v3.85h-3.90zM627.80 336.10h3.90v3.85h-3.90zM604.40 339.95h3.90v3.85h-3.90zM612.20 339.95h3.90v3.85h-3.90zM620.00 339.95h3.90v3.85h-3.90zM627.80 339.95h3.90v3.85h-3.90z"/><rect x="660.50" y="308.00" width="292.00" height="40.20" fill="#fff" stroke="#404040" stroke-width="1.4"/><path fill="none" stroke="#c6c6c6" stroke-width="0.9" d="M665.50 313.00V343.80M665.50 313.00H696.70M669.40 313.00V343.80M665.50 316.85H696.70M673.30 313.00V343.80M665.50 320.70H696.70M677.20 313.00V343.80M665.50 324.55H696.70M681.10 313.00V343.80M665.50 328.40H696.70M685.00 313.00V343.80M665.50 332.25H696.70M688.90 313.00V343.80M665.50 336.10H696.70M692.80 313.00V343.80M665.50 339.95H696.70M696.70 313.00V343.80M665.50 343.80H696.70"/><path fill="none" stroke="#c6c6c6" stroke-width="0.9" d="M701.50 313.00V343.80M701.50 313.00H732.70M705.40 313.00V343.80M701.50 316.85H732.70M709.30 313.00V343.80M701.50 320.70H732.70M713.20 313.00V343.80M701.50 324.55H732.70M717.10 313.00V343.80M701.50 328.40H732.70M721.00 313.00V343.80M701.50 332.25H732.70M724.90 313.00V343.80M701.50 336.10H732.70M728.80 313.00V343.80M701.50 339.95H732.70M732.70 313.00V343.80M701.50 343.80H732.70"/><path fill="#b8000f" stroke="#f28088" stroke-width="0.9" d="M705.40 316.85h3.90v3.85h-3.90zM713.20 316.85h3.90v3.85h-3.90zM721.00 316.85h3.90v3.85h-3.90zM728.80 316.85h3.90v3.85h-3.90zM705.40 324.55h3.90v3.85h-3.90zM713.20 324.55h3.90v3.85h-3.90zM721.00 324.55h3.90v3.85h-3.90zM728.80 324.55h3.90v3.85h-3.90zM705.40 332.25h3.90v3.85h-3.90zM713.20 332.25h3.90v3.85h-3.90zM721.00 332.25h3.90v3.85h-3.90zM728.80 332.25h3.90v3.85h-3.90zM705.40 339.95h3.90v3.85h-3.90zM713.20 339.95h3.90v3.85h-3.90zM721.00 339.95h3.90v3.85h-3.90zM728.80 339.95h3.90v3.85h-3.90z"/><path fill="none" stroke="#c6c6c6" stroke-width="0.9" d="M737.50 313.00V343.80M737.50 313.00H768.70M741.40 313.00V343.80M737.50 316.85H768.70M745.30 313.00V343.80M737.50 320.70H768.70M749.20 313.00V343.80M737.50 324.55H768.70M753.10 313.00V343.80M737.50 328.40H768.70M757.00 313.00V343.80M737.50 332.25H768.70M760.90 313.00V343.80M737.50 336.10H768.70M764.80 313.00V343.80M737.50 339.95H768.70M768.70 313.00V343.80M737.50 343.80H768.70"/><path fill="#b8000f" stroke="#f28088" stroke-width="0.9" d="M745.30 320.70h3.90v3.85h-3.90zM749.20 320.70h3.90v3.85h-3.90zM760.90 320.70h3.90v3.85h-3.90zM764.80 320.70h3.90v3.85h-3.90zM745.30 324.55h3.90v3.85h-3.90zM749.20 324.55h3.90v3.85h-3.90zM760.90 324.55h3.90v3.85h-3.90zM764.80 324.55h3.90v3.85h-3.90zM745.30 336.10h3.90v3.85h-3.90zM749.20 336.10h3.90v3.85h-3.90zM760.90 336.10h3.90v3.85h-3.90zM764.80 336.10h3.90v3.85h-3.90zM745.30 339.95h3.90v3.85h-3.90zM749.20 339.95h3.90v3.85h-3.90zM760.90 339.95h3.90v3.85h-3.90zM764.80 339.95h3.90v3.85h-3.90z"/><path fill="none" stroke="#c6c6c6" stroke-width="0.9" d="M773.50 313.00V343.80M773.50 313.00H804.70M777.40 313.00V343.80M773.50 316.85H804.70M781.30 313.00V343.80M773.50 320.70H804.70M785.20 313.00V343.80M773.50 324.55H804.70M789.10 313.00V343.80M773.50 328.40H804.70M793.00 313.00V343.80M773.50 332.25H804.70M796.90 313.00V343.80M773.50 336.10H804.70M800.80 313.00V343.80M773.50 339.95H804.70M804.70 313.00V343.80M773.50 343.80H804.70"/><path fill="#b8000f" stroke="#f28088" stroke-width="0.9" d="M777.40 316.85h3.90v3.85h-3.90zM785.20 316.85h3.90v3.85h-3.90zM793.00 316.85h3.90v3.85h-3.90zM800.80 316.85h3.90v3.85h-3.90zM781.30 320.70h3.90v3.85h-3.90zM785.20 320.70h3.90v3.85h-3.90zM796.90 320.70h3.90v3.85h-3.90zM800.80 320.70h3.90v3.85h-3.90zM777.40 324.55h3.90v3.85h-3.90zM781.30 324.55h3.90v3.85h-3.90zM785.20 324.55h3.90v3.85h-3.90zM793.00 324.55h3.90v3.85h-3.90zM796.90 324.55h3.90v3.85h-3.90zM800.80 324.55h3.90v3.85h-3.90zM777.40 332.25h3.90v3.85h-3.90zM785.20 332.25h3.90v3.85h-3.90zM793.00 332.25h3.90v3.85h-3.90zM800.80 332.25h3.90v3.85h-3.90zM781.30 336.10h3.90v3.85h-3.90zM785.20 336.10h3.90v3.85h-3.90zM796.90 336.10h3.90v3.85h-3.90zM800.80 336.10h3.90v3.85h-3.90zM777.40 339.95h3.90v3.85h-3.90zM781.30 339.95h3.90v3.85h-3.90zM785.20 339.95h3.90v3.85h-3.90zM793.00 339.95h3.90v3.85h-3.90zM796.90 339.95h3.90v3.85h-3.90zM800.80 339.95h3.90v3.85h-3.90z"/><path fill="none" stroke="#c6c6c6" stroke-width="0.9" d="M809.50 313.00V343.80M809.50 313.00H840.70M813.40 313.00V343.80M809.50 316.85H840.70M817.30 313.00V343.80M809.50 320.70H840.70M821.20 313.00V343.80M809.50 324.55H840.70M825.10 313.00V343.80M809.50 328.40H840.70M829.00 313.00V343.80M809.50 332.25H840.70M832.90 313.00V343.80M809.50 336.10H840.70M836.80 313.00V343.80M809.50 339.95H840.70M840.70 313.00V343.80M809.50 343.80H840.70"/><path fill="#b8000f" stroke="#f28088" stroke-width="0.9" d="M825.10 328.40h3.90v3.85h-3.90zM829.00 328.40h3.90v3.85h-3.90zM832.90 328.40h3.90v3.85h-3.90zM836.80 328.40h3.90v3.85h-3.90zM825.10 332.25h3.90v3.85h-3.90zM829.00 332.25h3.90v3.85h-3.90zM832.90 332.25h3.90v3.85h-3.90zM836.80 332.25h3.90v3.85h-3.90zM825.10 336.10h3.90v3.85h-3.90zM829.00 336.10h3.90v3.85h-3.90zM832.90 336.10h3.90v3.85h-3.90zM836.80 336.10h3.90v3.85h-3.90zM825.10 339.95h3.90v3.85h-3.90zM829.00 339.95h3.90v3.85h-3.90zM832.90 339.95h3.90v3.85h-3.90zM836.80 339.95h3.90v3.85h-3.90z"/><path fill="none" stroke="#c6c6c6" stroke-width="0.9" d="M845.50 313.00V343.80M845.50 313.00H876.70M849.40 313.00V343.80M845.50 316.85H876.70M853.30 313.00V343.80M845.50 320.70H876.70M857.20 313.00V343.80M845.50 324.55H876.70M861.10 313.00V343.80M845.50 328.40H876.70M865.00 313.00V343.80M845.50 332.25H876.70M868.90 313.00V343.80M845.50 336.10H876.70M872.80 313.00V343.80M845.50 339.95H876.70M876.70 313.00V343.80M845.50 343.80H876.70"/><path fill="#b8000f" stroke="#f28088" stroke-width="0.9" d="M849.40 316.85h3.90v3.85h-3.90zM857.20 316.85h3.90v3.85h-3.90zM865.00 316.85h3.90v3.85h-3.90zM872.80 316.85h3.90v3.85h-3.90zM849.40 324.55h3.90v3.85h-3.90zM857.20 324.55h3.90v3.85h-3.90zM865.00 324.55h3.90v3.85h-3.90zM872.80 324.55h3.90v3.85h-3.90zM861.10 328.40h3.90v3.85h-3.90zM865.00 328.40h3.90v3.85h-3.90zM868.90 328.40h3.90v3.85h-3.90zM872.80 328.40h3.90v3.85h-3.90zM849.40 332.25h3.90v3.85h-3.90zM857.20 332.25h3.90v3.85h-3.90zM861.10 332.25h3.90v3.85h-3.90zM865.00 332.25h3.90v3.85h-3.90zM868.90 332.25h3.90v3.85h-3.90zM872.80 332.25h3.90v3.85h-3.90zM861.10 336.10h3.90v3.85h-3.90zM865.00 336.10h3.90v3.85h-3.90zM868.90 336.10h3.90v3.85h-3.90zM872.80 336.10h3.90v3.85h-3.90zM849.40 339.95h3.90v3.85h-3.90zM857.20 339.95h3.90v3.85h-3.90zM861.10 339.95h3.90v3.85h-3.90zM865.00 339.95h3.90v3.85h-3.90zM868.90 339.95h3.90v3.85h-3.90zM872.80 339.95h3.90v3.85h-3.90z"/><path fill="none" stroke="#c6c6c6" stroke-width="0.9" d="M881.50 313.00V343.80M881.50 313.00H912.70M885.40 313.00V343.80M881.50 316.85H912.70M889.30 313.00V343.80M881.50 320.70H912.70M893.20 313.00V343.80M881.50 324.55H912.70M897.10 313.00V343.80M881.50 328.40H912.70M901.00 313.00V343.80M881.50 332.25H912.70M904.90 313.00V343.80M881.50 336.10H912.70M908.80 313.00V343.80M881.50 339.95H912.70M912.70 313.00V343.80M881.50 343.80H912.70"/><path fill="#b8000f" stroke="#f28088" stroke-width="0.9" d="M889.30 320.70h3.90v3.85h-3.90zM893.20 320.70h3.90v3.85h-3.90zM904.90 320.70h3.90v3.85h-3.90zM908.80 320.70h3.90v3.85h-3.90zM889.30 324.55h3.90v3.85h-3.90zM893.20 324.55h3.90v3.85h-3.90zM904.90 324.55h3.90v3.85h-3.90zM908.80 324.55h3.90v3.85h-3.90zM897.10 328.40h3.90v3.85h-3.90zM901.00 328.40h3.90v3.85h-3.90zM904.90 328.40h3.90v3.85h-3.90zM908.80 328.40h3.90v3.85h-3.90zM897.10 332.25h3.90v3.85h-3.90zM901.00 332.25h3.90v3.85h-3.90zM904.90 332.25h3.90v3.85h-3.90zM908.80 332.25h3.90v3.85h-3.90zM889.30 336.10h3.90v3.85h-3.90zM893.20 336.10h3.90v3.85h-3.90zM897.10 336.10h3.90v3.85h-3.90zM901.00 336.10h3.90v3.85h-3.90zM904.90 336.10h3.90v3.85h-3.90zM908.80 336.10h3.90v3.85h-3.90zM889.30 339.95h3.90v3.85h-3.90zM893.20 339.95h3.90v3.85h-3.90zM897.10 339.95h3.90v3.85h-3.90zM901.00 339.95h3.90v3.85h-3.90zM904.90 339.95h3.90v3.85h-3.90zM908.80 339.95h3.90v3.85h-3.90z"/><path fill="none" stroke="#c6c6c6" stroke-width="0.9" d="M917.50 313.00V343.80M917.50 313.00H948.70M921.40 313.00V343.80M917.50 316.85H948.70M925.30 313.00V343.80M917.50 320.70H948.70M929.20 313.00V343.80M917.50 324.55H948.70M933.10 313.00V343.80M917.50 328.40H948.70M937.00 313.00V343.80M917.50 332.25H948.70M940.90 313.00V343.80M917.50 336.10H948.70M944.80 313.00V343.80M917.50 339.95H948.70M948.70 313.00V343.80M917.50 343.80H948.70"/><path fill="#b8000f" stroke="#f28088" stroke-width="0.9" d="M921.40 316.85h3.90v3.85h-3.90zM929.20 316.85h3.90v3.85h-3.90zM937.00 316.85h3.90v3.85h-3.90zM944.80 316.85h3.90v3.85h-3.90zM925.30 320.70h3.90v3.85h-3.90zM929.20 320.70h3.90v3.85h-3.90zM940.90 320.70h3.90v3.85h-3.90zM944.80 320.70h3.90v3.85h-3.90zM921.40 324.55h3.90v3.85h-3.90zM925.30 324.55h3.90v3.85h-3.90zM929.20 324.55h3.90v3.85h-3.90zM937.00 324.55h3.90v3.85h-3.90zM940.90 324.55h3.90v3.85h-3.90zM944.80 324.55h3.90v3.85h-3.90zM933.10 328.40h3.90v3.85h-3.90zM937.00 328.40h3.90v3.85h-3.90zM940.90 328.40h3.90v3.85h-3.90zM944.80 328.40h3.90v3.85h-3.90zM921.40 332.25h3.90v3.85h-3.90zM929.20 332.25h3.90v3.85h-3.90zM933.10 332.25h3.90v3.85h-3.90zM937.00 332.25h3.90v3.85h-3.90zM940.90 332.25h3.90v3.85h-3.90zM944.80 332.25h3.90v3.85h-3.90zM925.30 336.10h3.90v3.85h-3.90zM929.20 336.10h3.90v3.85h-3.90zM933.10 336.10h3.90v3.85h-3.90zM937.00 336.10h3.90v3.85h-3.90zM940.90 336.10h3.90v3.85h-3.90zM944.80 336.10h3.90v3.85h-3.90zM921.40 339.95h3.90v3.85h-3.90zM925.30 339.95h3.90v3.85h-3.90zM929.20 339.95h3.90v3.85h-3.90zM933.10 339.95h3.90v3.85h-3.90zM937.00 339.95h3.90v3.85h-3.90zM940.90 339.95h3.90v3.85h-3.90zM944.80 339.95h3.90v3.85h-3.90z"/><rect x="343.70" y="452.50" width="292.80" height="39.50" fill="#fff" stroke="#404040" stroke-width="1.4"/><path fill="none" stroke="#c6c6c6" stroke-width="0.9" d="M348.70 457.50V488.30M348.70 457.50H379.90M352.60 457.50V488.30M348.70 461.35H379.90M356.50 457.50V488.30M348.70 465.20H379.90M360.40 457.50V488.30M348.70 469.05H379.90M364.30 457.50V488.30M348.70 472.90H379.90M368.20 457.50V488.30M348.70 476.75H379.90M372.10 457.50V488.30M348.70 480.60H379.90M376.00 457.50V488.30M348.70 484.45H379.90M379.90 457.50V488.30M348.70 488.30H379.90"/><path fill="none" stroke="#c6c6c6" stroke-width="0.9" d="M384.70 457.50V488.30M384.70 457.50H415.90M388.60 457.50V488.30M384.70 461.35H415.90M392.50 457.50V488.30M384.70 465.20H415.90M396.40 457.50V488.30M384.70 469.05H415.90M400.30 457.50V488.30M384.70 472.90H415.90M404.20 457.50V488.30M384.70 476.75H415.90M408.10 457.50V488.30M384.70 480.60H415.90M412.00 457.50V488.30M384.70 484.45H415.90M415.90 457.50V488.30M384.70 488.30H415.90"/><path fill="none" stroke="#c6c6c6" stroke-width="0.9" d="M420.70 457.50V488.30M420.70 457.50H451.90M424.60 457.50V488.30M420.70 461.35H451.90M428.50 457.50V488.30M420.70 465.20H451.90M432.40 457.50V488.30M420.70 469.05H451.90M436.30 457.50V488.30M420.70 472.90H451.90M440.20 457.50V488.30M420.70 476.75H451.90M444.10 457.50V488.30M420.70 480.60H451.90M448.00 457.50V488.30M420.70 484.45H451.90M451.90 457.50V488.30M420.70 488.30H451.90"/><path fill="none" stroke="#c6c6c6" stroke-width="0.9" d="M456.70 457.50V488.30M456.70 457.50H487.90M460.60 457.50V488.30M456.70 461.35H487.90M464.50 457.50V488.30M456.70 465.20H487.90M468.40 457.50V488.30M456.70 469.05H487.90M472.30 457.50V488.30M456.70 472.90H487.90M476.20 457.50V488.30M456.70 476.75H487.90M480.10 457.50V488.30M456.70 480.60H487.90M484.00 457.50V488.30M456.70 484.45H487.90M487.90 457.50V488.30M456.70 488.30H487.90"/><path fill="none" stroke="#c6c6c6" stroke-width="0.9" d="M492.70 457.50V488.30M492.70 457.50H523.90M496.60 457.50V488.30M492.70 461.35H523.90M500.50 457.50V488.30M492.70 465.20H523.90M504.40 457.50V488.30M492.70 469.05H523.90M508.30 457.50V488.30M492.70 472.90H523.90M512.20 457.50V488.30M492.70 476.75H523.90M516.10 457.50V488.30M492.70 480.60H523.90M520.00 457.50V488.30M492.70 484.45H523.90M523.90 457.50V488.30M492.70 488.30H523.90"/><path fill="none" stroke="#c6c6c6" stroke-width="0.9" d="M528.70 457.50V488.30M528.70 457.50H559.90M532.60 457.50V488.30M528.70 461.35H559.90M536.50 457.50V488.30M528.70 465.20H559.90M540.40 457.50V488.30M528.70 469.05H559.90M544.30 457.50V488.30M528.70 472.90H559.90M548.20 457.50V488.30M528.70 476.75H559.90M552.10 457.50V488.30M528.70 480.60H559.90M556.00 457.50V488.30M528.70 484.45H559.90M559.90 457.50V488.30M528.70 488.30H559.90"/><path fill="none" stroke="#c6c6c6" stroke-width="0.9" d="M564.70 457.50V488.30M564.70 457.50H595.90M568.60 457.50V488.30M564.70 461.35H595.90M572.50 457.50V488.30M564.70 465.20H595.90M576.40 457.50V488.30M564.70 469.05H595.90M580.30 457.50V488.30M564.70 472.90H595.90M584.20 457.50V488.30M564.70 476.75H595.90M588.10 457.50V488.30M564.70 480.60H595.90M592.00 457.50V488.30M564.70 484.45H595.90M595.90 457.50V488.30M564.70 488.30H595.90"/><path fill="none" stroke="#c6c6c6" stroke-width="0.9" d="M600.70 457.50V488.30M600.70 457.50H631.90M604.60 457.50V488.30M600.70 461.35H631.90M608.50 457.50V488.30M600.70 465.20H631.90M612.40 457.50V488.30M600.70 469.05H631.90M616.30 457.50V488.30M600.70 472.90H631.90M620.20 457.50V488.30M600.70 476.75H631.90M624.10 457.50V488.30M600.70 480.60H631.90M628.00 457.50V488.30M600.70 484.45H631.90M631.90 457.50V488.30M600.70 488.30H631.90"/><path fill="#b8000f" stroke="#f28088" stroke-width="0.9" d="M628.00 484.45h3.90v3.85h-3.90z"/><line x1="175.00" y1="151.70" x2="453.75" y2="76.36" stroke="#000" stroke-width="2.1" stroke-linecap="round"/><path fill="#000" d="M463.60 73.70L453.22 81.27L453.27 76.49L450.82 72.39Z"/><line x1="489.80" y1="152.00" x2="489.80" y2="83.00" stroke="#000" stroke-width="2.1" stroke-linecap="round"/><path fill="#000" d="M489.80 72.80L494.40 84.80L489.80 83.50L485.20 84.80Z"/><line x1="803.80" y1="151.50" x2="525.75" y2="76.55" stroke="#000" stroke-width="2.1" stroke-linecap="round"/><path fill="#000" d="M515.90 73.90L528.68 72.58L526.23 76.68L526.29 81.46Z"/><line x1="173.40" y1="292.50" x2="173.40" y2="227.80" stroke="#000" stroke-width="2.1" stroke-linecap="round"/><path fill="#000" d="M173.40 217.60L178.00 229.60L173.40 228.30L168.80 229.60Z"/><line x1="198.00" y1="292.90" x2="459.17" y2="221.01" stroke="#000" stroke-width="2.1" stroke-linecap="round"/><path fill="#000" d="M469.00 218.30L458.65 225.92L458.68 221.14L456.21 217.05Z"/><line x1="469.90" y1="292.90" x2="208.54" y2="221.20" stroke="#000" stroke-width="2.1" stroke-linecap="round"/><path fill="#000" d="M198.70 218.50L211.49 217.24L209.02 221.33L209.06 226.11Z"/><line x1="490.00" y1="292.50" x2="490.00" y2="228.10" stroke="#000" stroke-width="2.1" stroke-linecap="round"/><path fill="#000" d="M490.00 217.90L494.60 229.90L490.00 228.60L485.40 229.90Z"/><line x1="514.50" y1="292.90" x2="775.46" y2="221.30" stroke="#000" stroke-width="2.1" stroke-linecap="round"/><path fill="#000" d="M785.30 218.60L774.94 226.21L774.98 221.43L772.51 217.34Z"/><line x1="786.70" y1="292.90" x2="525.23" y2="221.00" stroke="#000" stroke-width="2.1" stroke-linecap="round"/><path fill="#000" d="M515.40 218.30L528.19 217.05L525.72 221.14L525.75 225.92Z"/><line x1="806.50" y1="292.50" x2="806.50" y2="228.10" stroke="#000" stroke-width="2.1" stroke-linecap="round"/><path fill="#000" d="M806.50 217.90L811.10 229.90L806.50 228.60L801.90 229.90Z"/><line x1="468.60" y1="436.10" x2="189.77" y2="363.86" stroke="#000" stroke-width="2.1" stroke-linecap="round"/><path fill="#000" d="M179.90 361.30L192.67 359.86L190.26 363.98L190.36 368.76Z"/><line x1="490.40" y1="436.10" x2="490.40" y2="370.30" stroke="#000" stroke-width="2.1" stroke-linecap="round"/><path fill="#000" d="M490.40 360.10L495.00 372.10L490.40 370.80L485.80 372.10Z"/><line x1="512.40" y1="436.10" x2="790.83" y2="363.47" stroke="#000" stroke-width="2.1" stroke-linecap="round"/><path fill="#000" d="M800.70 360.90L790.25 368.38L790.35 363.60L787.93 359.48Z"/></svg></body></html>
